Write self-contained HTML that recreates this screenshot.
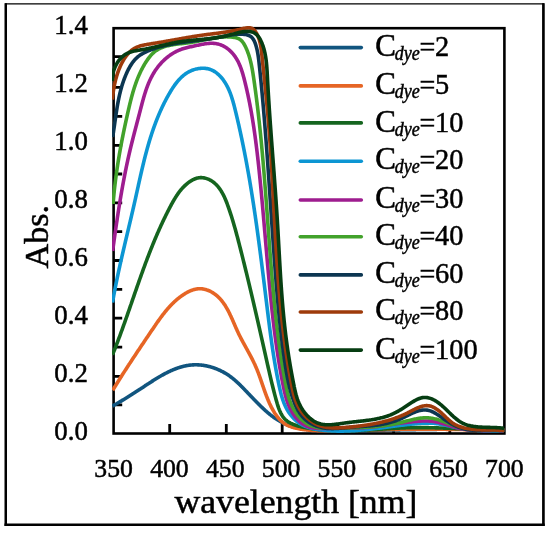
<!DOCTYPE html>
<html><head><meta charset="utf-8"><style>
html,body{margin:0;padding:0;background:#fff;}
body{width:550px;height:533px;overflow:hidden;}
svg{display:block;will-change:transform;}
text{font-family:"Liberation Serif",serif;fill:#000;stroke:#000;stroke-width:0.5px;}
</style></head><body>
<svg width="550" height="533" viewBox="0 0 550 533">
<rect x="0" y="0" width="550" height="533" fill="#fff"/>

<path d="M5.7,3.8 H543.5 V524.8 H5.7 Z" fill="none" stroke="#000" stroke-width="1.3"/>
<rect x="4.5" y="3.2" width="2.5" height="522.8" fill="#000"/>
<rect x="542.1" y="3.2" width="2.6" height="522.8" fill="#000"/>
<rect x="4.5" y="523.5" width="540.2" height="2.5" fill="#000"/>
<rect x="113.6" y="28.2" width="390.80" height="405.30" fill="none" stroke="#000" stroke-width="2.6"/>
<path d="M113.6,404.80 H122.20 M113.6,376.40 H122.20 M113.6,347.20 H122.20 M113.6,318.10 H122.20 M113.6,289.30 H122.20 M113.6,260.50 H122.20 M113.6,231.60 H122.20 M113.6,202.80 H122.20 M113.6,174.00 H122.20 M113.6,145.30 H122.20 M113.6,116.40 H122.20 M113.6,87.40 H122.20 M113.6,56.60 H122.20 M169.70,433.5 V423.90 M226.30,433.5 V423.90 M282.20,433.5 V423.90 M337.90,433.5 V423.90 M393.60,433.5 V423.90 M449.80,433.5 V423.90" stroke="#000" stroke-width="2.8" fill="none"/>
<defs><clipPath id="pc"><rect x="112.1" y="0" width="394" height="440"/></clipPath></defs>
<g clip-path="url(#pc)">
<path d="M112.35,406.10 L112.77,405.86 L113.20,405.63 L113.63,405.39 L114.05,405.15 L114.47,404.91 L114.90,404.68 L115.32,404.44 L115.73,404.20 L116.15,403.96 L116.57,403.73 L116.98,403.49 L117.39,403.25 L117.81,403.01 L118.22,402.77 L118.63,402.54 L119.04,402.30 L119.44,402.06 L119.85,401.82 L120.25,401.58 L120.66,401.34 L121.06,401.10 L121.46,400.86 L121.87,400.63 L122.27,400.39 L122.67,400.15 L123.07,399.91 L123.46,399.67 L123.86,399.43 L124.26,399.18 L124.65,398.94 L125.05,398.70 L125.44,398.46 L125.84,398.22 L126.23,397.98 L126.62,397.73 L127.02,397.49 L127.41,397.25 L127.80,397.01 L128.19,396.76 L128.58,396.52 L128.97,396.27 L129.36,396.03 L129.75,395.79 L130.14,395.54 L130.53,395.29 L130.92,395.05 L131.31,394.80 L131.70,394.56 L132.09,394.31 L132.47,394.06 L132.86,393.81 L133.25,393.56 L133.64,393.31 L134.03,393.07 L134.41,392.82 L134.80,392.57 L135.19,392.31 L135.58,392.06 L135.97,391.81 L136.36,391.56 L136.75,391.31 L137.14,391.05 L137.53,390.80 L137.92,390.54 L138.31,390.29 L138.70,390.03 L139.09,389.78 L139.48,389.52 L139.87,389.26 L140.27,389.01 L140.66,388.75 L141.05,388.49 L141.45,388.23 L141.84,387.97 L142.24,387.71 L142.64,387.45 L143.03,387.18 L143.43,386.92 L143.83,386.66 L144.23,386.40 L144.63,386.13 L145.03,385.87 L145.43,385.60 L145.83,385.34 L146.23,385.07 L146.64,384.81 L147.04,384.54 L147.44,384.28 L147.85,384.01 L148.26,383.75 L148.66,383.48 L149.07,383.22 L149.48,382.95 L149.88,382.69 L150.29,382.43 L150.70,382.16 L151.11,381.90 L151.52,381.63 L151.93,381.37 L152.34,381.11 L152.76,380.85 L153.17,380.59 L153.58,380.33 L154.00,380.07 L154.41,379.81 L154.83,379.55 L155.24,379.29 L155.66,379.03 L156.07,378.78 L156.49,378.52 L156.91,378.27 L157.33,378.02 L157.75,377.76 L158.17,377.51 L158.59,377.26 L159.01,377.01 L159.43,376.77 L159.85,376.52 L160.28,376.28 L160.70,376.03 L161.12,375.79 L161.55,375.55 L161.97,375.31 L162.40,375.07 L162.82,374.84 L163.25,374.60 L163.68,374.37 L164.11,374.14 L164.53,373.91 L164.96,373.68 L165.39,373.45 L165.82,373.23 L166.25,373.01 L166.68,372.79 L167.12,372.57 L167.55,372.35 L167.98,372.14 L168.41,371.93 L168.85,371.72 L169.28,371.51 L169.72,371.31 L170.15,371.10 L170.59,370.90 L171.02,370.71 L171.46,370.51 L171.90,370.32 L172.34,370.13 L172.78,369.94 L173.21,369.75 L173.65,369.57 L174.09,369.39 L174.53,369.22 L174.98,369.04 L175.42,368.87 L175.86,368.70 L176.30,368.54 L176.74,368.37 L177.19,368.21 L177.63,368.06 L178.08,367.90 L178.52,367.75 L178.97,367.61 L179.41,367.46 L179.86,367.32 L180.31,367.18 L180.75,367.05 L181.20,366.92 L181.65,366.79 L182.10,366.67 L182.55,366.55 L183.00,366.43 L183.45,366.32 L183.90,366.21 L184.35,366.11 L184.80,366.01 L185.25,365.91 L185.71,365.81 L186.16,365.72 L186.61,365.64 L187.07,365.56 L187.52,365.48 L187.98,365.40 L188.43,365.33 L188.89,365.27 L189.34,365.21 L189.80,365.15 L190.26,365.10 L190.71,365.05 L191.17,365.01 L191.63,364.97 L192.09,364.93 L192.55,364.90 L193.01,364.87 L193.47,364.85 L193.93,364.83 L194.39,364.82 L194.85,364.81 L195.31,364.80 L195.77,364.80 L196.23,364.80 L196.69,364.81 L197.15,364.82 L197.61,364.83 L198.07,364.85 L198.53,364.88 L198.99,364.90 L199.45,364.93 L199.91,364.97 L200.37,365.01 L200.83,365.05 L201.29,365.10 L201.75,365.15 L202.21,365.21 L202.67,365.26 L203.13,365.33 L203.59,365.39 L204.05,365.47 L204.50,365.54 L204.96,365.62 L205.42,365.70 L205.87,365.79 L206.33,365.88 L206.78,365.97 L207.24,366.07 L207.69,366.17 L208.15,366.27 L208.60,366.38 L209.05,366.49 L209.50,366.61 L209.95,366.73 L210.40,366.85 L210.85,366.98 L211.30,367.11 L211.75,367.24 L212.19,367.38 L212.64,367.52 L213.08,367.67 L213.53,367.81 L213.97,367.97 L214.41,368.12 L214.85,368.28 L215.29,368.44 L215.73,368.61 L216.17,368.78 L216.60,368.95 L217.04,369.12 L217.47,369.30 L217.90,369.49 L218.34,369.67 L218.76,369.86 L219.19,370.05 L219.62,370.25 L220.05,370.45 L220.47,370.65 L220.89,370.85 L221.31,371.06 L221.73,371.27 L222.15,371.49 L222.57,371.71 L222.98,371.93 L223.40,372.15 L223.81,372.38 L224.22,372.61 L224.63,372.85 L225.04,373.08 L225.44,373.32 L225.84,373.56 L226.24,373.81 L226.64,374.06 L227.04,374.31 L227.44,374.57 L227.83,374.82 L228.22,375.08 L228.61,375.35 L229.00,375.61 L229.39,375.88 L229.77,376.16 L230.15,376.43 L230.53,376.71 L230.91,376.99 L231.29,377.27 L231.66,377.56 L232.03,377.85 L232.40,378.14 L232.77,378.43 L233.13,378.73 L233.50,379.03 L233.86,379.33 L234.22,379.63 L234.58,379.93 L234.94,380.24 L235.30,380.55 L235.65,380.86 L236.00,381.17 L236.36,381.49 L236.71,381.81 L237.06,382.12 L237.40,382.44 L237.75,382.77 L238.10,383.09 L238.44,383.41 L238.78,383.74 L239.12,384.07 L239.47,384.40 L239.81,384.73 L240.14,385.06 L240.48,385.39 L240.82,385.72 L241.15,386.06 L241.49,386.39 L241.82,386.73 L242.16,387.07 L242.49,387.41 L242.82,387.74 L243.16,388.08 L243.49,388.42 L243.82,388.76 L244.15,389.11 L244.48,389.45 L244.81,389.79 L245.14,390.13 L245.46,390.48 L245.79,390.82 L246.12,391.16 L246.45,391.51 L246.78,391.85 L247.10,392.19 L247.43,392.54 L247.76,392.88 L248.09,393.22 L248.41,393.57 L248.74,393.91 L249.07,394.26 L249.39,394.60 L249.72,394.94 L250.05,395.29 L250.38,395.63 L250.71,395.98 L251.03,396.32 L251.36,396.67 L251.69,397.01 L252.02,397.35 L252.35,397.70 L252.68,398.04 L253.01,398.39 L253.34,398.73 L253.67,399.08 L254.00,399.42 L254.34,399.76 L254.67,400.11 L255.00,400.45 L255.34,400.79 L255.67,401.14 L256.01,401.48 L256.34,401.82 L256.68,402.17 L257.02,402.51 L257.36,402.85 L257.70,403.20 L258.04,403.54 L258.38,403.88 L258.72,404.22 L259.06,404.56 L259.41,404.90 L259.75,405.24 L260.10,405.58 L260.44,405.92 L260.79,406.26 L261.14,406.59 L261.49,406.93 L261.83,407.26 L262.19,407.60 L262.54,407.93 L262.89,408.26 L263.24,408.59 L263.60,408.92 L263.95,409.25 L264.31,409.58 L264.67,409.90 L265.02,410.23 L265.38,410.55 L265.74,410.87 L266.11,411.19 L266.47,411.51 L266.83,411.83 L267.20,412.14 L267.56,412.46 L267.93,412.77 L268.29,413.08 L268.66,413.39 L269.03,413.69 L269.40,414.00 L269.77,414.30 L270.15,414.60 L270.52,414.90 L270.90,415.19 L271.27,415.49 L271.65,415.78 L272.03,416.07 L272.41,416.35 L272.79,416.64 L273.17,416.92 L273.55,417.20 L273.94,417.47 L274.32,417.75 L274.71,418.02 L275.10,418.29 L275.49,418.55 L275.88,418.82 L276.27,419.08 L276.66,419.33 L277.05,419.59 L277.45,419.84 L277.84,420.09 L278.24,420.33 L278.64,420.57 L279.04,420.81 L279.44,421.05 L279.85,421.28 L280.25,421.51 L280.66,421.73 L281.06,421.95 L281.47,422.17 L281.88,422.38 L282.29,422.59 L282.70,422.80 L283.12,423.00 L283.53,423.20 L283.95,423.40 L284.36,423.59 L284.78,423.78 L285.20,423.97 L285.62,424.15 L286.05,424.32 L286.47,424.50 L286.90,424.67 L287.32,424.84 L287.75,425.00 L288.18,425.16 L288.61,425.32 L289.04,425.48 L289.47,425.63 L289.90,425.78 L290.34,425.92 L290.77,426.06 L291.21,426.20 L291.65,426.34 L292.09,426.47 L292.53,426.60 L292.97,426.73 L293.41,426.85 L293.85,426.97 L294.30,427.09 L294.74,427.21 L295.19,427.32 L295.63,427.43 L296.08,427.54 L296.53,427.64 L296.98,427.74 L297.43,427.84 L297.88,427.94 L298.33,428.03 L298.79,428.12 L299.24,428.21 L299.70,428.30 L300.15,428.39 L300.61,428.47 L301.07,428.55 L301.52,428.63 L301.98,428.70 L302.44,428.77 L302.90,428.84 L303.36,428.91 L303.82,428.98 L304.29,429.05 L304.75,429.11 L305.21,429.17 L305.68,429.23 L306.14,429.28 L306.61,429.34 L307.07,429.39 L307.54,429.44 L308.01,429.49 L308.48,429.54 L308.94,429.59 L309.41,429.63 L309.88,429.67 L310.35,429.71 L310.82,429.75 L311.29,429.79 L311.77,429.83 L312.24,429.86 L312.71,429.90 L313.18,429.93 L313.66,429.96 L314.13,429.99 L314.60,430.02 L315.08,430.04 L315.55,430.07 L316.03,430.09 L316.50,430.11 L316.98,430.14 L317.45,430.16 L317.93,430.18 L318.41,430.20 L318.88,430.21 L319.36,430.23 L319.84,430.25 L320.31,430.26 L320.79,430.27 L321.27,430.29 L321.75,430.30 L322.23,430.31 L322.70,430.32 L323.18,430.33 L323.66,430.34 L324.14,430.35 L324.62,430.36 L325.10,430.37 L325.58,430.38 L326.05,430.38 L326.53,430.39 L327.01,430.39 L327.49,430.40 L327.97,430.41 L328.45,430.41 L328.93,430.42 L329.41,430.42 L329.89,430.42 L330.36,430.43 L330.84,430.43 L331.32,430.44 L331.80,430.44 L332.28,430.44 L332.76,430.45 L333.23,430.45 L333.71,430.45 L334.19,430.46 L334.67,430.46 L335.15,430.46 L335.62,430.46 L336.10,430.46 L336.58,430.47 L337.06,430.47 L337.53,430.47 L338.01,430.47 L338.49,430.47 L338.97,430.47 L339.44,430.48 L339.92,430.48 L340.40,430.48 L340.88,430.48 L341.35,430.48 L341.83,430.48 L342.31,430.48 L342.78,430.48 L343.26,430.48 L343.74,430.48 L344.21,430.48 L344.69,430.48 L345.17,430.48 L345.64,430.48 L346.12,430.48 L346.59,430.48 L347.07,430.47 L347.55,430.47 L348.02,430.47 L348.50,430.47 L348.97,430.47 L349.45,430.47 L349.93,430.47 L350.40,430.46 L350.88,430.46 L351.35,430.46 L351.83,430.46 L352.30,430.45 L352.78,430.45 L353.25,430.45 L353.73,430.45 L354.20,430.44 L354.68,430.44 L355.15,430.44 L355.63,430.43 L356.10,430.43 L356.58,430.43 L357.05,430.42 L357.53,430.42 L358.00,430.42 L358.48,430.41 L358.95,430.41 L359.43,430.41 L359.90,430.40 L360.38,430.40 L360.85,430.39 L361.33,430.39 L361.80,430.38 L362.27,430.38 L362.75,430.37 L363.22,430.37 L363.70,430.37 L364.17,430.36 L364.64,430.36 L365.12,430.35 L365.59,430.35 L366.07,430.34 L366.54,430.33 L367.01,430.33 L367.49,430.32 L367.96,430.32 L368.44,430.31 L368.91,430.31 L369.38,430.30 L369.86,430.30 L370.33,430.29 L370.80,430.28 L371.28,430.28 L371.75,430.27 L372.22,430.27 L372.70,430.26 L373.17,430.25 L373.64,430.25 L374.12,430.24 L374.59,430.23 L375.06,430.23 L375.53,430.22 L376.01,430.21 L376.48,430.21 L376.95,430.20 L377.43,430.19 L377.90,430.19 L378.37,430.18 L378.84,430.17 L379.32,430.17 L379.79,430.16 L380.26,430.15 L380.73,430.14 L381.21,430.14 L381.68,430.13 L382.15,430.12 L382.62,430.12 L383.10,430.11 L383.57,430.10 L384.04,430.09 L384.51,430.09 L384.99,430.08 L385.46,430.07 L385.93,430.06 L386.40,430.06 L386.88,430.05 L387.35,430.04 L387.82,430.03 L388.29,430.03 L388.76,430.02 L389.24,430.01 L389.71,430.00 L390.18,430.00 L390.65,429.99 L391.12,429.98 L391.60,429.97 L392.07,429.96 L392.54,429.96 L393.01,429.95 L393.48,429.94 L393.95,429.93 L394.43,429.92 L394.90,429.92 L395.37,429.91 L395.84,429.90 L396.31,429.89 L396.78,429.89 L397.26,429.88 L397.73,429.87 L398.20,429.86 L398.67,429.85 L399.14,429.85 L399.61,429.84 L400.09,429.83 L400.56,429.82 L401.03,429.81 L401.50,429.81 L401.97,429.80 L402.44,429.79 L402.91,429.78 L403.39,429.77 L403.86,429.77 L404.33,429.76 L404.80,429.75 L405.27,429.74 L405.74,429.74 L406.21,429.73 L406.68,429.72 L407.16,429.71 L407.63,429.71 L408.10,429.70 L408.57,429.69 L409.04,429.68 L409.51,429.67 L409.98,429.67 L410.45,429.66 L410.93,429.65 L411.40,429.65 L411.87,429.64 L412.34,429.63 L412.81,429.62 L413.28,429.62 L413.75,429.61 L414.22,429.60 L414.69,429.59 L415.17,429.59 L415.64,429.58 L416.11,429.57 L416.58,429.57 L417.05,429.56 L417.52,429.55 L417.99,429.55 L418.46,429.54 L418.93,429.53 L419.41,429.53 L419.88,429.52 L420.35,429.51 L420.82,429.51 L421.29,429.50 L421.76,429.49 L422.23,429.49 L422.70,429.48 L423.17,429.47 L423.65,429.47 L424.12,429.46 L424.59,429.46 L425.06,429.45 L425.53,429.44 L426.00,429.44 L426.47,429.43 L426.94,429.43 L427.41,429.42 L427.89,429.42 L428.36,429.41 L428.83,429.40 L429.30,429.40 L429.77,429.39 L430.24,429.39 L430.71,429.38 L431.18,429.38 L431.66,429.37 L432.13,429.37 L432.60,429.36 L433.07,429.36 L433.54,429.36 L434.01,429.35 L434.48,429.35 L434.95,429.34 L435.43,429.34 L435.90,429.33 L436.37,429.33 L436.84,429.33 L437.31,429.32 L437.78,429.32 L438.25,429.32 L438.72,429.31 L439.20,429.31 L439.67,429.31 L440.14,429.30 L440.61,429.30 L441.08,429.30 L441.55,429.29 L442.03,429.29 L442.50,429.29 L442.97,429.29 L443.44,429.28 L443.91,429.28 L444.38,429.28 L444.85,429.28 L445.33,429.27 L445.80,429.27 L446.27,429.27 L446.74,429.27 L447.21,429.27 L447.69,429.27 L448.16,429.27 L448.63,429.27 L449.10,429.26 L449.57,429.26 L450.04,429.26 L450.52,429.26 L450.99,429.26 L451.46,429.26 L451.93,429.26 L452.40,429.26 L452.88,429.26 L453.35,429.26 L453.82,429.26 L454.29,429.26 L454.77,429.26 L455.24,429.26 L455.71,429.27 L456.18,429.27 L456.65,429.27 L457.13,429.27 L457.60,429.27 L458.07,429.27 L458.54,429.27 L459.02,429.28 L459.49,429.28 L459.96,429.28 L460.43,429.28 L460.91,429.29 L461.38,429.29 L461.85,429.29 L462.32,429.30 L462.80,429.30 L463.27,429.30 L463.74,429.31 L464.22,429.31 L464.69,429.31 L465.16,429.32 L465.64,429.32 L466.11,429.33 L466.58,429.33 L467.05,429.34 L467.53,429.34 L468.00,429.35 L468.47,429.35 L468.95,429.36 L469.42,429.36 L469.89,429.37 L470.37,429.37 L470.84,429.38 L471.31,429.39 L471.79,429.39 L472.26,429.40 L472.74,429.41 L473.21,429.41 L473.68,429.42 L474.16,429.43 L474.63,429.44 L475.10,429.45 L475.58,429.45 L476.05,429.46 L476.53,429.47 L477.00,429.48 L477.47,429.49 L477.95,429.50 L478.42,429.51 L478.90,429.52 L479.37,429.53 L479.85,429.54 L480.32,429.55 L480.80,429.56 L481.27,429.57 L481.74,429.58 L482.22,429.59 L482.69,429.60 L483.17,429.61 L483.64,429.62 L484.12,429.63 L484.59,429.65 L485.07,429.66 L485.54,429.67 L486.02,429.68 L486.49,429.70 L486.97,429.71 L487.44,429.72 L487.92,429.74 L488.39,429.75 L488.87,429.77 L489.35,429.78 L489.82,429.79 L490.30,429.81 L490.77,429.82 L491.25,429.84 L491.72,429.85 L492.20,429.87 L492.68,429.89 L493.15,429.90 L493.63,429.92 L494.10,429.94 L494.58,429.95 L495.06,429.97 L495.53,429.99 L496.01,430.00 L496.49,430.02 L496.96,430.04 L497.44,430.06 L497.92,430.08 L498.39,430.10 L498.87,430.11 L499.35,430.13 L499.82,430.15 L500.30,430.17 L500.78,430.19 L501.26,430.21 L501.73,430.23 L502.21,430.26 L502.69,430.28 L503.16,430.30 L503.64,430.32 L504.12,430.34" fill="none" stroke="#11557f" stroke-width="3.6" stroke-linejoin="round" stroke-linecap="butt"/>
<path d="M112.70,390.29 L113.01,389.78 L113.32,389.28 L113.63,388.77 L113.94,388.26 L114.25,387.76 L114.56,387.25 L114.87,386.75 L115.18,386.24 L115.50,385.74 L115.81,385.23 L116.12,384.73 L116.43,384.23 L116.74,383.73 L117.05,383.23 L117.36,382.73 L117.67,382.23 L117.99,381.73 L118.30,381.23 L118.61,380.74 L118.92,380.24 L119.23,379.74 L119.55,379.25 L119.86,378.75 L120.17,378.26 L120.48,377.76 L120.79,377.27 L121.11,376.77 L121.42,376.28 L121.73,375.79 L122.05,375.30 L122.36,374.81 L122.67,374.31 L122.99,373.82 L123.30,373.33 L123.61,372.84 L123.93,372.35 L124.24,371.87 L124.55,371.38 L124.87,370.89 L125.18,370.40 L125.50,369.91 L125.81,369.43 L126.12,368.94 L126.44,368.45 L126.75,367.97 L127.07,367.48 L127.38,367.00 L127.70,366.51 L128.01,366.03 L128.33,365.54 L128.65,365.06 L128.96,364.57 L129.28,364.09 L129.59,363.61 L129.91,363.12 L130.23,362.64 L130.54,362.16 L130.86,361.68 L131.18,361.19 L131.49,360.71 L131.81,360.23 L132.13,359.75 L132.44,359.27 L132.76,358.78 L133.08,358.30 L133.40,357.82 L133.72,357.34 L134.03,356.86 L134.35,356.38 L134.67,355.90 L134.99,355.42 L135.31,354.94 L135.63,354.46 L135.95,353.98 L136.27,353.50 L136.58,353.02 L136.90,352.54 L137.22,352.06 L137.54,351.58 L137.86,351.10 L138.18,350.62 L138.51,350.14 L138.83,349.66 L139.15,349.18 L139.47,348.70 L139.79,348.22 L140.11,347.74 L140.43,347.26 L140.75,346.78 L141.08,346.30 L141.40,345.82 L141.72,345.34 L142.04,344.86 L142.37,344.38 L142.69,343.90 L143.01,343.42 L143.34,342.94 L143.66,342.46 L143.98,341.97 L144.31,341.49 L144.63,341.01 L144.96,340.53 L145.28,340.05 L145.61,339.57 L145.93,339.08 L146.26,338.60 L146.58,338.12 L146.91,337.64 L147.23,337.15 L147.56,336.67 L147.88,336.19 L148.21,335.70 L148.54,335.22 L148.86,334.74 L149.19,334.25 L149.52,333.77 L149.85,333.28 L150.17,332.80 L150.50,332.31 L150.83,331.82 L151.16,331.34 L151.49,330.85 L151.82,330.36 L152.15,329.88 L152.48,329.39 L152.81,328.90 L153.14,328.41 L153.47,327.93 L153.80,327.44 L154.13,326.95 L154.46,326.46 L154.79,325.97 L155.13,325.49 L155.46,325.00 L155.80,324.51 L156.13,324.02 L156.47,323.54 L156.80,323.05 L157.14,322.57 L157.48,322.08 L157.82,321.60 L158.16,321.11 L158.50,320.63 L158.85,320.15 L159.19,319.67 L159.54,319.19 L159.88,318.71 L160.23,318.23 L160.58,317.75 L160.93,317.28 L161.28,316.80 L161.64,316.33 L161.99,315.86 L162.35,315.39 L162.71,314.92 L163.07,314.45 L163.43,313.98 L163.79,313.52 L164.15,313.06 L164.52,312.59 L164.89,312.14 L165.26,311.68 L165.63,311.22 L166.01,310.77 L166.38,310.32 L166.76,309.87 L167.14,309.42 L167.52,308.98 L167.91,308.53 L168.29,308.09 L168.68,307.65 L169.07,307.22 L169.47,306.78 L169.86,306.35 L170.26,305.93 L170.66,305.50 L171.07,305.08 L171.47,304.66 L171.88,304.24 L172.29,303.83 L172.71,303.41 L173.12,303.01 L173.54,302.60 L173.96,302.20 L174.39,301.80 L174.82,301.40 L175.25,301.01 L175.68,300.62 L176.12,300.24 L176.56,299.85 L177.00,299.47 L177.45,299.10 L177.90,298.73 L178.35,298.36 L178.81,298.00 L179.26,297.63 L179.73,297.28 L180.19,296.93 L180.66,296.58 L181.14,296.23 L181.61,295.89 L182.09,295.56 L182.58,295.22 L183.06,294.90 L183.55,294.57 L184.05,294.25 L184.55,293.94 L185.05,293.63 L185.55,293.33 L186.06,293.03 L186.57,292.74 L187.09,292.45 L187.61,292.18 L188.13,291.91 L188.65,291.65 L189.18,291.40 L189.71,291.15 L190.24,290.92 L190.77,290.69 L191.31,290.48 L191.85,290.27 L192.39,290.08 L192.93,289.90 L193.47,289.73 L194.02,289.57 L194.57,289.42 L195.12,289.29 L195.67,289.17 L196.22,289.06 L196.77,288.97 L197.33,288.89 L197.88,288.83 L198.44,288.78 L199.00,288.75 L199.55,288.73 L200.11,288.73 L200.67,288.75 L201.23,288.78 L201.79,288.83 L202.35,288.90 L202.91,288.97 L203.46,289.07 L204.02,289.18 L204.58,289.30 L205.13,289.43 L205.68,289.58 L206.23,289.74 L206.77,289.92 L207.31,290.11 L207.85,290.31 L208.39,290.52 L208.92,290.74 L209.45,290.97 L209.97,291.22 L210.49,291.47 L211.01,291.74 L211.52,292.01 L212.02,292.30 L212.52,292.59 L213.01,292.89 L213.50,293.20 L213.98,293.52 L214.45,293.85 L214.92,294.19 L215.37,294.53 L215.83,294.88 L216.27,295.23 L216.71,295.60 L217.14,295.97 L217.56,296.34 L217.98,296.73 L218.39,297.12 L218.80,297.51 L219.20,297.92 L219.59,298.32 L219.98,298.74 L220.36,299.16 L220.74,299.59 L221.11,300.02 L221.48,300.45 L221.84,300.90 L222.19,301.35 L222.54,301.80 L222.89,302.26 L223.23,302.72 L223.56,303.19 L223.90,303.66 L224.22,304.14 L224.54,304.62 L224.86,305.10 L225.18,305.59 L225.49,306.08 L225.79,306.58 L226.09,307.08 L226.39,307.59 L226.69,308.10 L226.98,308.61 L227.27,309.12 L227.55,309.64 L227.83,310.16 L228.11,310.68 L228.39,311.21 L228.66,311.74 L228.93,312.27 L229.20,312.80 L229.47,313.34 L229.73,313.88 L229.99,314.42 L230.25,314.96 L230.50,315.51 L230.76,316.05 L231.01,316.60 L231.26,317.15 L231.51,317.70 L231.76,318.25 L232.01,318.80 L232.26,319.35 L232.50,319.90 L232.75,320.46 L232.99,321.01 L233.23,321.57 L233.47,322.12 L233.72,322.68 L233.96,323.23 L234.20,323.79 L234.44,324.34 L234.68,324.90 L234.92,325.45 L235.16,326.01 L235.40,326.56 L235.64,327.11 L235.89,327.66 L236.13,328.21 L236.37,328.76 L236.62,329.31 L236.86,329.85 L237.11,330.40 L237.36,330.94 L237.61,331.48 L237.86,332.02 L238.11,332.55 L238.36,333.09 L238.62,333.62 L238.87,334.15 L239.13,334.68 L239.39,335.20 L239.65,335.73 L239.91,336.25 L240.18,336.77 L240.44,337.29 L240.71,337.81 L240.97,338.32 L241.24,338.84 L241.51,339.35 L241.78,339.86 L242.05,340.37 L242.32,340.88 L242.59,341.39 L242.86,341.90 L243.14,342.40 L243.41,342.91 L243.68,343.41 L243.96,343.92 L244.23,344.42 L244.51,344.92 L244.78,345.42 L245.06,345.92 L245.33,346.42 L245.61,346.92 L245.88,347.42 L246.16,347.92 L246.43,348.42 L246.71,348.91 L246.98,349.41 L247.26,349.91 L247.53,350.41 L247.80,350.91 L248.08,351.40 L248.35,351.90 L248.62,352.40 L248.89,352.90 L249.16,353.40 L249.43,353.90 L249.70,354.40 L249.97,354.90 L250.24,355.40 L250.51,355.90 L250.77,356.40 L251.04,356.91 L251.30,357.41 L251.56,357.91 L251.82,358.42 L252.08,358.93 L252.34,359.43 L252.60,359.94 L252.85,360.45 L253.11,360.97 L253.36,361.48 L253.61,361.99 L253.86,362.51 L254.10,363.03 L254.35,363.54 L254.59,364.07 L254.83,364.59 L255.07,365.11 L255.31,365.64 L255.54,366.16 L255.78,366.69 L256.01,367.23 L256.24,367.76 L256.46,368.30 L256.69,368.83 L256.91,369.37 L257.13,369.92 L257.35,370.46 L257.56,371.01 L257.77,371.55 L257.99,372.10 L258.20,372.65 L258.41,373.20 L258.61,373.76 L258.82,374.31 L259.03,374.87 L259.23,375.42 L259.43,375.98 L259.63,376.54 L259.83,377.10 L260.03,377.67 L260.23,378.23 L260.43,378.79 L260.63,379.36 L260.82,379.92 L261.02,380.49 L261.21,381.05 L261.41,381.62 L261.60,382.19 L261.80,382.75 L261.99,383.32 L262.19,383.89 L262.38,384.46 L262.57,385.03 L262.77,385.60 L262.96,386.16 L263.16,386.73 L263.35,387.30 L263.55,387.87 L263.75,388.44 L263.94,389.00 L264.14,389.57 L264.34,390.14 L264.54,390.71 L264.74,391.27 L264.94,391.84 L265.15,392.40 L265.35,392.96 L265.55,393.53 L265.76,394.09 L265.97,394.65 L266.18,395.21 L266.39,395.77 L266.60,396.32 L266.82,396.88 L267.03,397.44 L267.25,397.99 L267.47,398.54 L267.70,399.09 L267.92,399.64 L268.15,400.19 L268.38,400.73 L268.61,401.28 L268.84,401.82 L269.08,402.36 L269.32,402.90 L269.56,403.44 L269.81,403.97 L270.05,404.50 L270.30,405.03 L270.56,405.56 L270.82,406.08 L271.08,406.61 L271.34,407.13 L271.61,407.64 L271.88,408.16 L272.15,408.67 L272.43,409.18 L272.71,409.69 L272.99,410.19 L273.28,410.69 L273.57,411.19 L273.87,411.69 L274.17,412.18 L274.48,412.67 L274.78,413.15 L275.10,413.63 L275.42,414.11 L275.74,414.58 L276.07,415.05 L276.40,415.51 L276.73,415.97 L277.08,416.42 L277.42,416.87 L277.78,417.31 L278.13,417.75 L278.50,418.18 L278.86,418.60 L279.24,419.01 L279.62,419.42 L280.00,419.82 L280.40,420.22 L280.79,420.61 L281.20,420.98 L281.61,421.35 L282.02,421.72 L282.45,422.07 L282.88,422.42 L283.31,422.75 L283.76,423.08 L284.21,423.39 L284.66,423.70 L285.13,424.00 L285.60,424.28 L286.08,424.56 L286.56,424.83 L287.05,425.08 L287.55,425.33 L288.06,425.57 L288.57,425.79 L289.08,426.01 L289.60,426.23 L290.13,426.43 L290.66,426.63 L291.19,426.81 L291.73,426.99 L292.28,427.17 L292.82,427.33 L293.37,427.49 L293.93,427.65 L294.48,427.80 L295.04,427.94 L295.60,428.08 L296.16,428.21 L296.73,428.34 L297.29,428.46 L297.86,428.58 L298.43,428.69 L299.00,428.80 L299.57,428.91 L300.14,429.01 L300.71,429.11 L301.29,429.20 L301.86,429.29 L302.44,429.38 L303.01,429.46 L303.59,429.54 L304.17,429.62 L304.75,429.69 L305.33,429.76 L305.91,429.83 L306.49,429.89 L307.07,429.95 L307.65,430.01 L308.23,430.07 L308.82,430.12 L309.40,430.17 L309.99,430.21 L310.57,430.26 L311.16,430.30 L311.75,430.33 L312.33,430.37 L312.92,430.40 L313.51,430.44 L314.10,430.46 L314.69,430.49 L315.28,430.52 L315.86,430.54 L316.45,430.56 L317.04,430.58 L317.64,430.60 L318.23,430.61 L318.82,430.62 L319.41,430.64 L320.00,430.65 L320.59,430.66 L321.18,430.66 L321.78,430.67 L322.37,430.68 L322.96,430.68 L323.55,430.68 L324.14,430.68 L324.74,430.69 L325.33,430.69 L325.92,430.68 L326.51,430.68 L327.10,430.68 L327.70,430.68 L328.29,430.67 L328.88,430.67 L329.47,430.67 L330.06,430.66 L330.65,430.66 L331.24,430.65 L331.83,430.65 L332.42,430.64 L333.01,430.63 L333.60,430.63 L334.19,430.62 L334.78,430.62 L335.37,430.61 L335.96,430.60 L336.55,430.59 L337.14,430.59 L337.72,430.58 L338.31,430.57 L338.90,430.56 L339.49,430.55 L340.08,430.55 L340.66,430.54 L341.25,430.53 L341.84,430.52 L342.42,430.51 L343.01,430.50 L343.60,430.49 L344.18,430.48 L344.77,430.47 L345.35,430.46 L345.94,430.45 L346.53,430.44 L347.11,430.43 L347.70,430.42 L348.28,430.41 L348.87,430.39 L349.45,430.38 L350.03,430.37 L350.62,430.36 L351.20,430.35 L351.79,430.34 L352.37,430.32 L352.95,430.31 L353.54,430.30 L354.12,430.29 L354.71,430.28 L355.29,430.26 L355.87,430.25 L356.45,430.24 L357.04,430.22 L357.62,430.21 L358.20,430.20 L358.79,430.19 L359.37,430.17 L359.95,430.16 L360.53,430.15 L361.11,430.13 L361.70,430.12 L362.28,430.11 L362.86,430.09 L363.44,430.08 L364.02,430.07 L364.60,430.05 L365.19,430.04 L365.77,430.02 L366.35,430.01 L366.93,430.00 L367.51,429.98 L368.09,429.97 L368.67,429.96 L369.25,429.94 L369.83,429.93 L370.41,429.91 L371.00,429.90 L371.58,429.89 L372.16,429.87 L372.74,429.86 L373.32,429.85 L373.90,429.83 L374.48,429.82 L375.06,429.81 L375.64,429.79 L376.22,429.78 L376.80,429.76 L377.38,429.75 L377.96,429.74 L378.54,429.72 L379.12,429.71 L379.70,429.70 L380.28,429.68 L380.86,429.67 L381.44,429.66 L382.02,429.65 L382.60,429.63 L383.18,429.62 L383.76,429.61 L384.34,429.59 L384.92,429.58 L385.50,429.57 L386.08,429.56 L386.66,429.55 L387.24,429.53 L387.82,429.52 L388.40,429.51 L388.98,429.50 L389.56,429.49 L390.14,429.47 L390.72,429.46 L391.30,429.45 L391.88,429.44 L392.46,429.43 L393.04,429.42 L393.62,429.41 L394.20,429.40 L394.78,429.39 L395.36,429.38 L395.94,429.37 L396.52,429.36 L397.10,429.35 L397.68,429.34 L398.26,429.33 L398.84,429.32 L399.42,429.31 L400.00,429.30 L400.58,429.30 L401.16,429.29 L401.74,429.28 L402.32,429.27 L402.90,429.26 L403.48,429.26 L404.06,429.25 L404.64,429.24 L405.23,429.24 L405.81,429.23 L406.39,429.22 L406.97,429.22 L407.55,429.21 L408.13,429.21 L408.71,429.20 L409.30,429.20 L409.88,429.19 L410.46,429.19 L411.04,429.18 L411.62,429.18 L412.21,429.18 L412.79,429.17 L413.37,429.17 L413.95,429.17 L414.54,429.17 L415.12,429.16 L415.70,429.16 L416.28,429.16 L416.87,429.16 L417.45,429.16 L418.03,429.16 L418.62,429.15 L419.20,429.15 L419.78,429.15 L420.37,429.15 L420.95,429.15 L421.53,429.15 L422.12,429.15 L422.70,429.15 L423.28,429.16 L423.87,429.16 L424.45,429.16 L425.04,429.16 L425.62,429.16 L426.20,429.16 L426.79,429.17 L427.37,429.17 L427.96,429.17 L428.54,429.17 L429.13,429.18 L429.71,429.18 L430.29,429.18 L430.88,429.19 L431.46,429.19 L432.05,429.19 L432.63,429.20 L433.22,429.20 L433.80,429.21 L434.39,429.21 L434.97,429.22 L435.56,429.22 L436.14,429.22 L436.73,429.23 L437.31,429.24 L437.90,429.24 L438.48,429.25 L439.07,429.25 L439.65,429.26 L440.24,429.26 L440.82,429.27 L441.41,429.28 L441.99,429.28 L442.58,429.29 L443.16,429.30 L443.75,429.30 L444.33,429.31 L444.92,429.32 L445.50,429.32 L446.09,429.33 L446.67,429.34 L447.26,429.34 L447.84,429.35 L448.43,429.36 L449.01,429.37 L449.60,429.37 L450.18,429.38 L450.77,429.39 L451.35,429.40 L451.94,429.41 L452.52,429.41 L453.11,429.42 L453.69,429.43 L454.28,429.44 L454.87,429.45 L455.45,429.46 L456.04,429.47 L456.62,429.47 L457.21,429.48 L457.79,429.49 L458.38,429.50 L458.96,429.51 L459.55,429.52 L460.13,429.53 L460.72,429.54 L461.30,429.55 L461.88,429.55 L462.47,429.56 L463.05,429.57 L463.64,429.58 L464.22,429.59 L464.81,429.60 L465.39,429.61 L465.98,429.62 L466.56,429.63 L467.15,429.64 L467.73,429.65 L468.32,429.66 L468.90,429.67 L469.48,429.67 L470.07,429.68 L470.65,429.69 L471.24,429.70 L471.82,429.71 L472.40,429.72 L472.99,429.73 L473.57,429.74 L474.16,429.75 L474.74,429.76 L475.32,429.77 L475.91,429.78 L476.49,429.79 L477.07,429.79 L477.66,429.80 L478.24,429.81 L478.82,429.82 L479.41,429.83 L479.99,429.84 L480.57,429.85 L481.15,429.86 L481.74,429.87 L482.32,429.87 L482.90,429.88 L483.48,429.89 L484.07,429.90 L484.65,429.91 L485.23,429.92 L485.81,429.93 L486.40,429.93 L486.98,429.94 L487.56,429.95 L488.14,429.96 L488.72,429.97 L489.30,429.97 L489.89,429.98 L490.47,429.99 L491.05,430.00 L491.63,430.00 L492.21,430.01 L492.79,430.02 L493.37,430.03 L493.95,430.03 L494.53,430.04 L495.11,430.05 L495.69,430.05 L496.27,430.06 L496.85,430.07 L497.43,430.07 L498.01,430.08 L498.59,430.08 L499.17,430.09 L499.75,430.10 L500.33,430.10 L500.91,430.11 L501.49,430.11 L502.07,430.12 L502.64,430.12 L503.22,430.13 L503.80,430.13 L504.38,430.14" fill="none" stroke="#e66525" stroke-width="3.6" stroke-linejoin="round" stroke-linecap="butt"/>
<path d="M112.53,354.75 L112.82,354.04 L113.10,353.32 L113.39,352.60 L113.68,351.88 L113.96,351.16 L114.25,350.45 L114.53,349.73 L114.81,349.01 L115.09,348.29 L115.37,347.57 L115.65,346.85 L115.93,346.13 L116.21,345.41 L116.49,344.69 L116.76,343.97 L117.04,343.25 L117.31,342.53 L117.59,341.81 L117.86,341.09 L118.13,340.37 L118.40,339.65 L118.67,338.93 L118.94,338.21 L119.21,337.49 L119.48,336.77 L119.75,336.05 L120.02,335.33 L120.28,334.61 L120.55,333.89 L120.81,333.16 L121.08,332.44 L121.34,331.72 L121.60,331.00 L121.87,330.28 L122.13,329.56 L122.39,328.83 L122.65,328.11 L122.91,327.39 L123.17,326.67 L123.43,325.95 L123.69,325.22 L123.95,324.50 L124.20,323.78 L124.46,323.06 L124.72,322.33 L124.97,321.61 L125.23,320.89 L125.49,320.17 L125.74,319.44 L126.00,318.72 L126.25,318.00 L126.50,317.28 L126.76,316.55 L127.01,315.83 L127.27,315.11 L127.52,314.38 L127.77,313.66 L128.02,312.94 L128.28,312.22 L128.53,311.49 L128.78,310.77 L129.03,310.05 L129.28,309.32 L129.53,308.60 L129.78,307.88 L130.03,307.16 L130.28,306.43 L130.53,305.71 L130.78,304.99 L131.03,304.26 L131.29,303.54 L131.53,302.82 L131.78,302.10 L132.03,301.37 L132.28,300.65 L132.53,299.93 L132.78,299.21 L133.03,298.48 L133.28,297.76 L133.53,297.04 L133.78,296.32 L134.03,295.59 L134.28,294.87 L134.53,294.15 L134.78,293.43 L135.03,292.71 L135.28,291.98 L135.53,291.26 L135.79,290.54 L136.04,289.82 L136.29,289.10 L136.54,288.37 L136.79,287.65 L137.04,286.93 L137.29,286.21 L137.55,285.49 L137.80,284.77 L138.05,284.05 L138.30,283.33 L138.56,282.61 L138.81,281.89 L139.06,281.16 L139.32,280.44 L139.57,279.72 L139.83,279.00 L140.08,278.28 L140.34,277.56 L140.60,276.84 L140.85,276.12 L141.11,275.41 L141.37,274.69 L141.62,273.97 L141.88,273.25 L142.14,272.53 L142.40,271.81 L142.66,271.09 L142.92,270.37 L143.18,269.65 L143.44,268.94 L143.71,268.22 L143.97,267.50 L144.23,266.78 L144.50,266.07 L144.76,265.35 L145.03,264.63 L145.29,263.91 L145.56,263.20 L145.83,262.48 L146.09,261.76 L146.36,261.05 L146.63,260.33 L146.90,259.62 L147.17,258.90 L147.44,258.19 L147.72,257.47 L147.99,256.76 L148.26,256.04 L148.54,255.33 L148.81,254.61 L149.09,253.90 L149.37,253.19 L149.64,252.47 L149.92,251.76 L150.20,251.05 L150.48,250.33 L150.77,249.62 L151.05,248.91 L151.33,248.20 L151.62,247.48 L151.90,246.77 L152.19,246.06 L152.48,245.35 L152.76,244.64 L153.05,243.93 L153.34,243.22 L153.64,242.51 L153.93,241.80 L154.22,241.09 L154.52,240.38 L154.81,239.67 L155.11,238.96 L155.41,238.25 L155.71,237.55 L156.01,236.84 L156.31,236.13 L156.61,235.42 L156.92,234.72 L157.22,234.01 L157.53,233.31 L157.84,232.60 L158.15,231.89 L158.46,231.19 L158.77,230.48 L159.08,229.78 L159.40,229.08 L159.71,228.37 L160.03,227.67 L160.35,226.96 L160.67,226.26 L160.99,225.56 L161.31,224.86 L161.63,224.15 L161.96,223.45 L162.29,222.75 L162.62,222.05 L162.94,221.35 L163.28,220.65 L163.61,219.95 L163.94,219.25 L164.28,218.55 L164.62,217.85 L164.95,217.16 L165.29,216.46 L165.64,215.76 L165.98,215.06 L166.33,214.37 L166.67,213.67 L167.02,212.97 L167.37,212.28 L167.72,211.58 L168.08,210.89 L168.43,210.20 L168.79,209.50 L169.14,208.81 L169.51,208.12 L169.87,207.42 L170.23,206.73 L170.60,206.04 L170.96,205.35 L171.33,204.66 L171.71,203.97 L172.08,203.29 L172.46,202.60 L172.84,201.92 L173.23,201.24 L173.62,200.57 L174.01,199.89 L174.41,199.22 L174.81,198.56 L175.22,197.89 L175.63,197.24 L176.04,196.58 L176.46,195.93 L176.89,195.29 L177.32,194.65 L177.76,194.02 L178.20,193.39 L178.65,192.77 L179.11,192.15 L179.57,191.54 L180.04,190.94 L180.52,190.34 L181.00,189.75 L181.50,189.17 L182.00,188.60 L182.50,188.04 L183.02,187.48 L183.54,186.93 L184.08,186.39 L184.62,185.86 L185.17,185.34 L185.73,184.83 L186.30,184.33 L186.87,183.84 L187.46,183.36 L188.06,182.89 L188.67,182.43 L189.29,181.98 L189.92,181.55 L190.55,181.13 L191.20,180.73 L191.85,180.35 L192.51,179.98 L193.18,179.64 L193.86,179.32 L194.54,179.02 L195.23,178.75 L195.93,178.50 L196.63,178.29 L197.33,178.10 L198.05,177.94 L198.76,177.82 L199.48,177.72 L200.20,177.67 L200.93,177.65 L201.66,177.66 L202.39,177.70 L203.11,177.78 L203.84,177.89 L204.56,178.03 L205.28,178.19 L206.00,178.39 L206.71,178.61 L207.41,178.86 L208.11,179.13 L208.80,179.42 L209.47,179.74 L210.14,180.08 L210.79,180.44 L211.43,180.82 L212.06,181.22 L212.67,181.64 L213.27,182.07 L213.85,182.53 L214.42,182.99 L214.98,183.48 L215.53,183.98 L216.06,184.49 L216.58,185.02 L217.09,185.57 L217.58,186.13 L218.07,186.70 L218.54,187.28 L219.01,187.88 L219.46,188.49 L219.90,189.11 L220.33,189.74 L220.75,190.38 L221.17,191.04 L221.57,191.70 L221.96,192.37 L222.35,193.05 L222.72,193.74 L223.09,194.44 L223.45,195.14 L223.81,195.85 L224.15,196.57 L224.49,197.29 L224.82,198.02 L225.14,198.76 L225.46,199.50 L225.77,200.24 L226.08,200.99 L226.38,201.74 L226.68,202.49 L226.97,203.24 L227.25,204.00 L227.53,204.76 L227.81,205.52 L228.08,206.28 L228.35,207.04 L228.62,207.80 L228.88,208.56 L229.14,209.31 L229.40,210.07 L229.65,210.82 L229.90,211.58 L230.15,212.33 L230.40,213.08 L230.64,213.83 L230.88,214.57 L231.12,215.32 L231.36,216.07 L231.59,216.81 L231.82,217.55 L232.05,218.29 L232.28,219.03 L232.51,219.77 L232.73,220.51 L232.95,221.25 L233.17,221.99 L233.39,222.72 L233.61,223.46 L233.82,224.19 L234.04,224.93 L234.25,225.66 L234.46,226.39 L234.67,227.13 L234.87,227.86 L235.08,228.59 L235.28,229.32 L235.49,230.05 L235.69,230.78 L235.89,231.51 L236.09,232.24 L236.29,232.97 L236.48,233.70 L236.68,234.42 L236.88,235.15 L237.07,235.88 L237.26,236.61 L237.46,237.34 L237.65,238.07 L237.84,238.80 L238.03,239.52 L238.22,240.25 L238.41,240.98 L238.60,241.71 L238.79,242.44 L238.98,243.17 L239.16,243.90 L239.35,244.63 L239.54,245.36 L239.73,246.10 L239.91,246.83 L240.10,247.56 L240.29,248.29 L240.48,249.03 L240.66,249.76 L240.85,250.49 L241.04,251.23 L241.22,251.96 L241.41,252.70 L241.59,253.44 L241.78,254.17 L241.96,254.91 L242.15,255.65 L242.33,256.38 L242.52,257.12 L242.70,257.86 L242.89,258.60 L243.07,259.34 L243.26,260.08 L243.44,260.82 L243.62,261.56 L243.81,262.30 L243.99,263.04 L244.17,263.78 L244.36,264.52 L244.54,265.26 L244.72,266.01 L244.90,266.75 L245.09,267.49 L245.27,268.23 L245.45,268.98 L245.63,269.72 L245.81,270.46 L246.00,271.21 L246.18,271.95 L246.36,272.70 L246.54,273.44 L246.72,274.19 L246.90,274.93 L247.08,275.68 L247.26,276.43 L247.44,277.17 L247.62,277.92 L247.80,278.67 L247.98,279.41 L248.16,280.16 L248.34,280.91 L248.52,281.66 L248.70,282.40 L248.88,283.15 L249.06,283.90 L249.24,284.65 L249.42,285.40 L249.59,286.15 L249.77,286.90 L249.95,287.64 L250.13,288.39 L250.31,289.14 L250.48,289.89 L250.66,290.64 L250.84,291.39 L251.01,292.14 L251.19,292.89 L251.37,293.64 L251.55,294.39 L251.72,295.14 L251.90,295.90 L252.08,296.65 L252.25,297.40 L252.43,298.15 L252.60,298.90 L252.78,299.65 L252.95,300.40 L253.13,301.15 L253.31,301.91 L253.48,302.66 L253.66,303.41 L253.83,304.16 L254.01,304.91 L254.18,305.66 L254.35,306.42 L254.53,307.17 L254.70,307.92 L254.88,308.67 L255.05,309.42 L255.23,310.18 L255.40,310.93 L255.57,311.68 L255.75,312.43 L255.92,313.18 L256.09,313.94 L256.27,314.69 L256.44,315.44 L256.61,316.19 L256.78,316.94 L256.96,317.70 L257.13,318.45 L257.30,319.20 L257.47,319.95 L257.65,320.70 L257.82,321.45 L257.99,322.21 L258.16,322.96 L258.33,323.71 L258.50,324.46 L258.68,325.21 L258.85,325.96 L259.02,326.71 L259.19,327.47 L259.36,328.22 L259.53,328.97 L259.70,329.72 L259.87,330.47 L260.04,331.22 L260.21,331.97 L260.38,332.72 L260.55,333.47 L260.72,334.22 L260.89,334.97 L261.06,335.72 L261.23,336.47 L261.40,337.22 L261.57,337.97 L261.74,338.72 L261.91,339.46 L262.08,340.21 L262.25,340.96 L262.42,341.71 L262.59,342.46 L262.76,343.21 L262.93,343.95 L263.09,344.70 L263.26,345.45 L263.43,346.19 L263.60,346.94 L263.77,347.69 L263.94,348.43 L264.10,349.18 L264.27,349.93 L264.44,350.67 L264.61,351.42 L264.78,352.16 L264.94,352.91 L265.11,353.65 L265.28,354.39 L265.45,355.14 L265.61,355.88 L265.78,356.62 L265.95,357.37 L266.11,358.11 L266.28,358.85 L266.45,359.59 L266.61,360.34 L266.78,361.08 L266.95,361.82 L267.11,362.56 L267.28,363.30 L267.45,364.04 L267.61,364.78 L267.78,365.52 L267.95,366.26 L268.11,367.00 L268.28,367.74 L268.45,368.47 L268.61,369.21 L268.78,369.95 L268.95,370.69 L269.12,371.43 L269.29,372.17 L269.46,372.91 L269.62,373.65 L269.79,374.39 L269.97,375.13 L270.14,375.87 L270.31,376.61 L270.48,377.35 L270.66,378.09 L270.83,378.84 L271.00,379.58 L271.18,380.32 L271.36,381.07 L271.53,381.81 L271.71,382.56 L271.89,383.30 L272.07,384.05 L272.26,384.79 L272.44,385.54 L272.62,386.29 L272.81,387.04 L272.99,387.79 L273.18,388.54 L273.37,389.30 L273.56,390.05 L273.75,390.81 L273.95,391.56 L274.14,392.32 L274.34,393.08 L274.54,393.84 L274.74,394.60 L274.94,395.36 L275.14,396.12 L275.35,396.89 L275.55,397.65 L275.76,398.42 L275.97,399.19 L276.18,399.96 L276.40,400.73 L276.61,401.51 L276.83,402.28 L277.06,403.05 L277.28,403.82 L277.52,404.59 L277.76,405.36 L278.00,406.12 L278.25,406.88 L278.51,407.63 L278.77,408.37 L279.05,409.11 L279.33,409.84 L279.63,410.56 L279.93,411.27 L280.25,411.97 L280.57,412.66 L280.91,413.34 L281.26,414.00 L281.63,414.65 L282.01,415.29 L282.40,415.91 L282.81,416.51 L283.24,417.10 L283.68,417.66 L284.14,418.21 L284.62,418.74 L285.11,419.25 L285.63,419.74 L286.16,420.21 L286.71,420.66 L287.27,421.10 L287.85,421.51 L288.45,421.91 L289.06,422.29 L289.68,422.65 L290.31,423.00 L290.96,423.33 L291.62,423.65 L292.29,423.96 L292.98,424.25 L293.67,424.53 L294.37,424.79 L295.08,425.05 L295.80,425.29 L296.53,425.52 L297.26,425.74 L298.00,425.96 L298.74,426.16 L299.49,426.35 L300.25,426.54 L301.00,426.72 L301.76,426.89 L302.53,427.06 L303.29,427.22 L304.06,427.38 L304.83,427.53 L305.59,427.67 L306.36,427.82 L307.13,427.96 L307.90,428.09 L308.66,428.22 L309.43,428.35 L310.20,428.47 L310.97,428.59 L311.73,428.71 L312.50,428.82 L313.27,428.93 L314.04,429.04 L314.80,429.14 L315.57,429.24 L316.34,429.33 L317.11,429.42 L317.87,429.51 L318.64,429.60 L319.41,429.68 L320.18,429.76 L320.94,429.83 L321.71,429.90 L322.48,429.97 L323.24,430.04 L324.01,430.10 L324.78,430.16 L325.55,430.22 L326.31,430.27 L327.08,430.32 L327.85,430.37 L328.62,430.41 L329.38,430.46 L330.15,430.50 L330.92,430.53 L331.69,430.57 L332.45,430.60 L333.22,430.63 L333.99,430.66 L334.76,430.68 L335.52,430.70 L336.29,430.72 L337.06,430.74 L337.83,430.75 L338.59,430.77 L339.36,430.78 L340.13,430.79 L340.89,430.79 L341.66,430.80 L342.43,430.80 L343.20,430.80 L343.96,430.80 L344.73,430.79 L345.50,430.79 L346.27,430.78 L347.03,430.77 L347.80,430.76 L348.57,430.75 L349.33,430.73 L350.10,430.71 L350.87,430.70 L351.64,430.68 L352.40,430.66 L353.17,430.63 L353.94,430.61 L354.71,430.58 L355.47,430.56 L356.24,430.53 L357.01,430.50 L357.77,430.47 L358.54,430.44 L359.31,430.40 L360.08,430.37 L360.84,430.34 L361.61,430.30 L362.38,430.26 L363.14,430.22 L363.91,430.18 L364.68,430.14 L365.45,430.10 L366.21,430.06 L366.98,430.02 L367.75,429.98 L368.51,429.93 L369.28,429.89 L370.05,429.84 L370.81,429.80 L371.58,429.75 L372.35,429.71 L373.12,429.66 L373.88,429.61 L374.65,429.56 L375.42,429.52 L376.18,429.47 L376.95,429.42 L377.72,429.37 L378.48,429.32 L379.25,429.27 L380.02,429.23 L380.79,429.18 L381.55,429.13 L382.32,429.08 L383.09,429.03 L383.85,428.98 L384.62,428.93 L385.39,428.89 L386.15,428.84 L386.92,428.79 L387.69,428.74 L388.45,428.70 L389.22,428.65 L389.99,428.60 L390.75,428.56 L391.52,428.51 L392.29,428.47 L393.05,428.43 L393.82,428.38 L394.59,428.34 L395.35,428.30 L396.12,428.26 L396.89,428.22 L397.65,428.18 L398.42,428.14 L399.19,428.11 L399.95,428.07 L400.72,428.04 L401.49,428.00 L402.25,427.97 L403.02,427.94 L403.79,427.91 L404.55,427.88 L405.32,427.85 L406.08,427.82 L406.85,427.80 L407.62,427.78 L408.38,427.75 L409.15,427.73 L409.92,427.71 L410.68,427.70 L411.45,427.68 L412.22,427.67 L412.98,427.65 L413.75,427.64 L414.51,427.63 L415.28,427.62 L416.05,427.61 L416.81,427.61 L417.58,427.60 L418.34,427.60 L419.11,427.60 L419.88,427.60 L420.64,427.60 L421.41,427.60 L422.18,427.61 L422.94,427.61 L423.71,427.62 L424.47,427.62 L425.24,427.63 L426.01,427.64 L426.77,427.65 L427.54,427.66 L428.30,427.67 L429.07,427.69 L429.84,427.70 L430.60,427.72 L431.37,427.73 L432.13,427.75 L432.90,427.77 L433.67,427.79 L434.43,427.81 L435.20,427.83 L435.96,427.85 L436.73,427.87 L437.50,427.89 L438.26,427.92 L439.03,427.94 L439.79,427.97 L440.56,427.99 L441.33,428.02 L442.09,428.05 L442.86,428.07 L443.63,428.10 L444.39,428.13 L445.16,428.16 L445.92,428.19 L446.69,428.22 L447.46,428.25 L448.22,428.28 L448.99,428.31 L449.75,428.34 L450.52,428.38 L451.29,428.41 L452.05,428.44 L452.82,428.48 L453.59,428.51 L454.35,428.54 L455.12,428.58 L455.89,428.61 L456.65,428.64 L457.42,428.68 L458.18,428.71 L458.95,428.75 L459.72,428.78 L460.48,428.82 L461.25,428.85 L462.02,428.89 L462.78,428.92 L463.55,428.96 L464.32,428.99 L465.08,429.02 L465.85,429.06 L466.62,429.09 L467.38,429.13 L468.15,429.16 L468.92,429.19 L469.68,429.23 L470.45,429.26 L471.22,429.29 L471.98,429.33 L472.75,429.36 L473.52,429.39 L474.29,429.42 L475.05,429.45 L475.82,429.48 L476.59,429.51 L477.35,429.54 L478.12,429.57 L478.89,429.60 L479.66,429.63 L480.42,429.66 L481.19,429.68 L481.96,429.71 L482.73,429.74 L483.49,429.76 L484.26,429.79 L485.03,429.81 L485.80,429.83 L486.56,429.86 L487.33,429.88 L488.10,429.90 L488.87,429.92 L489.63,429.94 L490.40,429.95 L491.17,429.97 L491.94,429.99 L492.71,430.00 L493.47,430.02 L494.24,430.03 L495.01,430.04 L495.78,430.06 L496.55,430.07 L497.31,430.07 L498.08,430.08 L498.85,430.09 L499.62,430.10 L500.39,430.10 L501.16,430.10 L501.93,430.11 L502.69,430.11 L503.46,430.11 L504.23,430.10" fill="none" stroke="#15651f" stroke-width="3.6" stroke-linejoin="round" stroke-linecap="butt"/>
<path d="M112.53,302.49 L112.69,301.56 L112.85,300.62 L113.02,299.69 L113.18,298.76 L113.35,297.83 L113.51,296.90 L113.68,295.97 L113.85,295.04 L114.03,294.12 L114.20,293.19 L114.37,292.26 L114.55,291.33 L114.73,290.40 L114.91,289.47 L115.09,288.55 L115.27,287.62 L115.45,286.69 L115.63,285.76 L115.82,284.84 L116.00,283.91 L116.19,282.98 L116.38,282.06 L116.57,281.13 L116.76,280.21 L116.95,279.28 L117.14,278.36 L117.33,277.43 L117.53,276.50 L117.72,275.58 L117.92,274.65 L118.12,273.73 L118.31,272.81 L118.51,271.88 L118.71,270.96 L118.91,270.03 L119.11,269.11 L119.32,268.18 L119.52,267.26 L119.72,266.34 L119.93,265.41 L120.13,264.49 L120.34,263.57 L120.55,262.64 L120.75,261.72 L120.96,260.80 L121.17,259.88 L121.38,258.95 L121.59,258.03 L121.80,257.11 L122.01,256.19 L122.22,255.26 L122.44,254.34 L122.65,253.42 L122.86,252.50 L123.08,251.58 L123.29,250.65 L123.50,249.73 L123.72,248.81 L123.93,247.89 L124.15,246.97 L124.37,246.05 L124.58,245.12 L124.80,244.20 L125.01,243.28 L125.23,242.36 L125.45,241.44 L125.67,240.52 L125.88,239.60 L126.10,238.67 L126.32,237.75 L126.54,236.83 L126.76,235.91 L126.98,234.99 L127.19,234.07 L127.41,233.15 L127.63,232.23 L127.85,231.30 L128.07,230.38 L128.29,229.46 L128.50,228.54 L128.72,227.62 L128.94,226.70 L129.16,225.78 L129.38,224.85 L129.60,223.93 L129.81,223.01 L130.03,222.09 L130.25,221.17 L130.47,220.25 L130.68,219.32 L130.90,218.40 L131.12,217.48 L131.33,216.56 L131.55,215.64 L131.76,214.71 L131.98,213.79 L132.19,212.87 L132.41,211.95 L132.62,211.03 L132.83,210.10 L133.05,209.18 L133.26,208.26 L133.47,207.33 L133.68,206.41 L133.89,205.49 L134.10,204.57 L134.31,203.64 L134.52,202.72 L134.73,201.80 L134.94,200.87 L135.15,199.95 L135.35,199.02 L135.56,198.10 L135.76,197.18 L135.97,196.25 L136.17,195.33 L136.38,194.40 L136.58,193.48 L136.79,192.55 L136.99,191.63 L137.20,190.71 L137.40,189.78 L137.60,188.86 L137.81,187.93 L138.01,187.01 L138.21,186.09 L138.42,185.16 L138.62,184.24 L138.83,183.31 L139.03,182.39 L139.24,181.47 L139.44,180.55 L139.65,179.62 L139.85,178.70 L140.06,177.78 L140.27,176.85 L140.48,175.93 L140.69,175.01 L140.90,174.09 L141.11,173.17 L141.32,172.25 L141.53,171.33 L141.74,170.41 L141.96,169.49 L142.17,168.57 L142.39,167.65 L142.61,166.73 L142.83,165.81 L143.05,164.89 L143.27,163.98 L143.49,163.06 L143.71,162.14 L143.94,161.23 L144.17,160.31 L144.39,159.40 L144.62,158.48 L144.86,157.57 L145.09,156.66 L145.32,155.74 L145.56,154.83 L145.80,153.92 L146.04,153.01 L146.28,152.10 L146.53,151.19 L146.77,150.28 L147.02,149.37 L147.27,148.46 L147.53,147.56 L147.78,146.65 L148.04,145.74 L148.30,144.84 L148.56,143.94 L148.82,143.03 L149.09,142.13 L149.36,141.23 L149.63,140.33 L149.91,139.43 L150.18,138.53 L150.46,137.63 L150.75,136.73 L151.03,135.84 L151.32,134.94 L151.61,134.05 L151.91,133.15 L152.20,132.26 L152.50,131.37 L152.81,130.48 L153.11,129.59 L153.42,128.70 L153.74,127.81 L154.05,126.92 L154.37,126.04 L154.69,125.15 L155.02,124.27 L155.35,123.38 L155.68,122.50 L156.02,121.62 L156.36,120.74 L156.71,119.87 L157.05,118.99 L157.40,118.11 L157.76,117.24 L158.12,116.36 L158.48,115.49 L158.85,114.62 L159.22,113.75 L159.60,112.88 L159.98,112.02 L160.36,111.15 L160.75,110.29 L161.14,109.42 L161.54,108.56 L161.94,107.70 L162.34,106.84 L162.75,105.98 L163.17,105.13 L163.59,104.27 L164.01,103.42 L164.44,102.56 L164.87,101.71 L165.31,100.86 L165.75,100.02 L166.20,99.17 L166.65,98.33 L167.11,97.48 L167.57,96.64 L168.04,95.80 L168.51,94.96 L168.99,94.12 L169.47,93.29 L169.96,92.46 L170.45,91.63 L170.95,90.80 L171.46,89.98 L171.97,89.16 L172.49,88.35 L173.02,87.54 L173.56,86.74 L174.10,85.95 L174.66,85.17 L175.22,84.40 L175.79,83.63 L176.37,82.88 L176.96,82.14 L177.56,81.41 L178.17,80.69 L178.79,79.98 L179.42,79.29 L180.06,78.62 L180.72,77.95 L181.39,77.31 L182.07,76.68 L182.76,76.06 L183.46,75.47 L184.18,74.89 L184.91,74.33 L185.66,73.80 L186.42,73.28 L187.20,72.78 L187.99,72.31 L188.79,71.85 L189.61,71.43 L190.45,71.02 L191.30,70.64 L192.17,70.28 L193.06,69.95 L193.96,69.65 L194.87,69.37 L195.79,69.12 L196.72,68.90 L197.66,68.71 L198.61,68.55 L199.56,68.43 L200.51,68.33 L201.46,68.27 L202.41,68.23 L203.35,68.24 L204.29,68.28 L205.22,68.35 L206.15,68.46 L207.06,68.61 L207.96,68.79 L208.85,69.01 L209.73,69.28 L210.58,69.58 L211.42,69.91 L212.25,70.29 L213.06,70.69 L213.85,71.13 L214.63,71.60 L215.39,72.10 L216.13,72.63 L216.86,73.19 L217.57,73.77 L218.27,74.38 L218.95,75.01 L219.61,75.66 L220.26,76.34 L220.89,77.03 L221.51,77.74 L222.11,78.47 L222.69,79.21 L223.26,79.96 L223.81,80.73 L224.34,81.51 L224.86,82.30 L225.36,83.09 L225.84,83.90 L226.31,84.71 L226.77,85.53 L227.21,86.36 L227.64,87.19 L228.05,88.04 L228.45,88.88 L228.84,89.74 L229.21,90.60 L229.57,91.47 L229.93,92.34 L230.27,93.22 L230.60,94.10 L230.92,94.99 L231.23,95.88 L231.54,96.78 L231.83,97.68 L232.12,98.58 L232.40,99.49 L232.67,100.40 L232.94,101.31 L233.20,102.23 L233.46,103.15 L233.71,104.07 L233.95,105.00 L234.19,105.92 L234.43,106.85 L234.67,107.78 L234.90,108.70 L235.13,109.63 L235.35,110.56 L235.58,111.49 L235.81,112.42 L236.03,113.35 L236.25,114.28 L236.48,115.21 L236.70,116.14 L236.92,117.07 L237.14,118.00 L237.35,118.93 L237.57,119.86 L237.78,120.79 L238.00,121.72 L238.21,122.65 L238.43,123.59 L238.64,124.52 L238.85,125.45 L239.06,126.38 L239.26,127.31 L239.47,128.24 L239.68,129.17 L239.88,130.10 L240.09,131.03 L240.29,131.96 L240.49,132.89 L240.69,133.82 L240.89,134.75 L241.09,135.68 L241.29,136.61 L241.49,137.54 L241.69,138.47 L241.88,139.41 L242.08,140.34 L242.27,141.27 L242.46,142.20 L242.65,143.13 L242.84,144.06 L243.03,144.99 L243.22,145.92 L243.41,146.85 L243.60,147.78 L243.78,148.72 L243.97,149.65 L244.15,150.58 L244.34,151.51 L244.52,152.44 L244.70,153.37 L244.88,154.30 L245.06,155.24 L245.24,156.17 L245.42,157.10 L245.60,158.03 L245.78,158.96 L245.95,159.89 L246.13,160.82 L246.30,161.76 L246.47,162.69 L246.65,163.62 L246.82,164.55 L246.99,165.48 L247.16,166.41 L247.33,167.35 L247.50,168.28 L247.67,169.21 L247.83,170.14 L248.00,171.07 L248.17,172.01 L248.33,172.94 L248.50,173.87 L248.66,174.80 L248.82,175.73 L248.98,176.67 L249.15,177.60 L249.31,178.53 L249.47,179.46 L249.63,180.40 L249.78,181.33 L249.94,182.26 L250.10,183.19 L250.25,184.12 L250.41,185.06 L250.57,185.99 L250.72,186.92 L250.87,187.85 L251.03,188.79 L251.18,189.72 L251.33,190.65 L251.48,191.59 L251.63,192.52 L251.78,193.45 L251.93,194.38 L252.08,195.32 L252.23,196.25 L252.38,197.18 L252.52,198.12 L252.67,199.05 L252.82,199.98 L252.96,200.91 L253.11,201.85 L253.25,202.78 L253.39,203.71 L253.54,204.65 L253.68,205.58 L253.82,206.51 L253.96,207.45 L254.10,208.38 L254.24,209.31 L254.38,210.25 L254.52,211.18 L254.66,212.11 L254.80,213.05 L254.93,213.98 L255.07,214.91 L255.21,215.85 L255.34,216.78 L255.48,217.72 L255.62,218.65 L255.75,219.58 L255.88,220.52 L256.02,221.45 L256.15,222.39 L256.28,223.32 L256.42,224.25 L256.55,225.19 L256.68,226.12 L256.81,227.06 L256.94,227.99 L257.07,228.92 L257.20,229.86 L257.33,230.79 L257.46,231.73 L257.59,232.66 L257.72,233.60 L257.85,234.53 L257.97,235.46 L258.10,236.40 L258.23,237.33 L258.35,238.27 L258.48,239.20 L258.61,240.14 L258.73,241.07 L258.86,242.01 L258.98,242.94 L259.11,243.88 L259.23,244.81 L259.35,245.75 L259.48,246.68 L259.60,247.62 L259.72,248.55 L259.85,249.49 L259.97,250.42 L260.09,251.36 L260.21,252.29 L260.33,253.23 L260.46,254.16 L260.58,255.10 L260.70,256.03 L260.82,256.97 L260.94,257.90 L261.06,258.84 L261.18,259.77 L261.30,260.71 L261.42,261.64 L261.54,262.58 L261.65,263.52 L261.77,264.45 L261.89,265.39 L262.01,266.32 L262.13,267.26 L262.25,268.19 L262.36,269.13 L262.48,270.07 L262.60,271.00 L262.72,271.94 L262.83,272.87 L262.95,273.81 L263.07,274.75 L263.19,275.68 L263.30,276.62 L263.42,277.56 L263.53,278.49 L263.65,279.43 L263.77,280.36 L263.88,281.30 L264.00,282.24 L264.12,283.17 L264.23,284.11 L264.35,285.05 L264.46,285.98 L264.58,286.92 L264.69,287.86 L264.81,288.79 L264.92,289.73 L265.04,290.67 L265.16,291.60 L265.27,292.54 L265.39,293.48 L265.50,294.42 L265.62,295.35 L265.73,296.29 L265.85,297.23 L265.96,298.16 L266.08,299.10 L266.19,300.04 L266.31,300.98 L266.42,301.91 L266.54,302.85 L266.65,303.79 L266.77,304.73 L266.89,305.66 L267.00,306.60 L267.12,307.54 L267.23,308.48 L267.35,309.41 L267.46,310.35 L267.58,311.29 L267.70,312.23 L267.81,313.17 L267.93,314.10 L268.04,315.04 L268.16,315.98 L268.28,316.92 L268.40,317.86 L268.51,318.79 L268.63,319.73 L268.75,320.67 L268.87,321.61 L268.99,322.55 L269.11,323.48 L269.23,324.42 L269.35,325.36 L269.47,326.30 L269.59,327.24 L269.71,328.18 L269.83,329.11 L269.95,330.05 L270.08,330.99 L270.20,331.93 L270.32,332.87 L270.45,333.81 L270.58,334.74 L270.70,335.68 L270.83,336.62 L270.96,337.56 L271.09,338.50 L271.22,339.44 L271.35,340.37 L271.48,341.31 L271.61,342.25 L271.74,343.19 L271.88,344.13 L272.01,345.07 L272.15,346.00 L272.29,346.94 L272.42,347.88 L272.56,348.82 L272.70,349.76 L272.84,350.69 L272.99,351.63 L273.13,352.57 L273.27,353.51 L273.42,354.45 L273.57,355.38 L273.72,356.32 L273.87,357.26 L274.02,358.20 L274.17,359.13 L274.32,360.07 L274.48,361.01 L274.63,361.95 L274.79,362.88 L274.95,363.82 L275.11,364.76 L275.27,365.70 L275.44,366.63 L275.60,367.57 L275.77,368.51 L275.94,369.45 L276.11,370.38 L276.28,371.32 L276.45,372.26 L276.63,373.19 L276.80,374.13 L276.98,375.07 L277.16,376.00 L277.34,376.94 L277.52,377.88 L277.71,378.81 L277.90,379.75 L278.09,380.68 L278.28,381.62 L278.47,382.56 L278.66,383.49 L278.86,384.43 L279.06,385.36 L279.26,386.30 L279.46,387.23 L279.67,388.17 L279.88,389.10 L280.10,390.03 L280.31,390.96 L280.54,391.89 L280.77,392.82 L281.01,393.74 L281.25,394.66 L281.51,395.57 L281.77,396.49 L282.04,397.40 L282.32,398.30 L282.61,399.20 L282.91,400.10 L283.22,400.99 L283.54,401.87 L283.87,402.75 L284.22,403.62 L284.58,404.49 L284.96,405.35 L285.35,406.20 L285.75,407.04 L286.17,407.88 L286.61,408.71 L287.06,409.53 L287.53,410.34 L288.01,411.14 L288.51,411.94 L289.03,412.72 L289.57,413.49 L290.11,414.24 L290.68,414.99 L291.26,415.72 L291.86,416.44 L292.47,417.14 L293.09,417.83 L293.74,418.50 L294.39,419.15 L295.06,419.79 L295.75,420.41 L296.45,421.01 L297.17,421.60 L297.90,422.16 L298.64,422.71 L299.40,423.23 L300.17,423.73 L300.95,424.21 L301.75,424.67 L302.57,425.10 L303.39,425.51 L304.23,425.90 L305.08,426.27 L305.94,426.61 L306.82,426.93 L307.70,427.24 L308.59,427.52 L309.50,427.79 L310.40,428.04 L311.32,428.28 L312.24,428.49 L313.17,428.70 L314.11,428.89 L315.04,429.07 L315.98,429.24 L316.93,429.40 L317.87,429.54 L318.82,429.68 L319.77,429.81 L320.72,429.94 L321.67,430.05 L322.62,430.16 L323.56,430.27 L324.51,430.37 L325.46,430.46 L326.41,430.54 L327.36,430.62 L328.31,430.69 L329.25,430.76 L330.20,430.82 L331.15,430.87 L332.10,430.92 L333.04,430.96 L333.99,431.00 L334.94,431.03 L335.89,431.06 L336.83,431.08 L337.78,431.09 L338.73,431.10 L339.67,431.11 L340.62,431.11 L341.57,431.11 L342.51,431.10 L343.46,431.08 L344.40,431.07 L345.35,431.04 L346.30,431.02 L347.24,430.99 L348.19,430.95 L349.13,430.91 L350.08,430.87 L351.02,430.82 L351.97,430.77 L352.92,430.72 L353.86,430.66 L354.81,430.60 L355.75,430.53 L356.69,430.47 L357.64,430.39 L358.58,430.32 L359.53,430.24 L360.47,430.16 L361.42,430.08 L362.36,429.99 L363.30,429.91 L364.25,429.81 L365.19,429.72 L366.13,429.63 L367.08,429.53 L368.02,429.43 L368.96,429.33 L369.91,429.22 L370.85,429.12 L371.79,429.01 L372.73,428.90 L373.68,428.79 L374.62,428.68 L375.56,428.56 L376.50,428.45 L377.44,428.33 L378.38,428.21 L379.33,428.09 L380.27,427.98 L381.21,427.86 L382.15,427.73 L383.09,427.61 L384.03,427.49 L384.97,427.37 L385.91,427.25 L386.85,427.12 L387.79,427.00 L388.73,426.88 L389.67,426.75 L390.61,426.63 L391.55,426.51 L392.49,426.39 L393.43,426.26 L394.36,426.14 L395.30,426.02 L396.24,425.90 L397.18,425.78 L398.12,425.66 L399.06,425.55 L399.99,425.43 L400.93,425.31 L401.87,425.20 L402.81,425.09 L403.74,424.98 L404.68,424.87 L405.62,424.76 L406.55,424.65 L407.49,424.55 L408.42,424.45 L409.36,424.35 L410.30,424.25 L411.23,424.15 L412.17,424.06 L413.10,423.97 L414.04,423.88 L414.97,423.79 L415.91,423.71 L416.84,423.63 L417.77,423.55 L418.71,423.48 L419.64,423.41 L420.58,423.35 L421.51,423.29 L422.44,423.24 L423.38,423.20 L424.31,423.16 L425.24,423.13 L426.17,423.11 L427.11,423.10 L428.04,423.10 L428.97,423.11 L429.90,423.13 L430.83,423.16 L431.77,423.20 L432.70,423.25 L433.63,423.31 L434.56,423.39 L435.49,423.48 L436.42,423.59 L437.35,423.71 L438.28,423.84 L439.21,423.98 L440.14,424.13 L441.07,424.30 L442.00,424.47 L442.93,424.65 L443.86,424.84 L444.79,425.03 L445.73,425.23 L446.66,425.44 L447.59,425.65 L448.52,425.86 L449.45,426.07 L450.38,426.28 L451.31,426.50 L452.24,426.71 L453.18,426.92 L454.11,427.12 L455.04,427.33 L455.98,427.53 L456.91,427.72 L457.84,427.91 L458.78,428.09 L459.71,428.26 L460.65,428.43 L461.58,428.58 L462.52,428.74 L463.46,428.88 L464.39,429.02 L465.33,429.15 L466.27,429.28 L467.21,429.40 L468.15,429.51 L469.09,429.62 L470.03,429.72 L470.97,429.82 L471.91,429.91 L472.85,429.99 L473.79,430.07 L474.73,430.15 L475.67,430.22 L476.61,430.28 L477.56,430.34 L478.50,430.39 L479.44,430.44 L480.39,430.49 L481.33,430.53 L482.27,430.56 L483.22,430.59 L484.16,430.62 L485.11,430.64 L486.05,430.66 L487.00,430.68 L487.94,430.69 L488.89,430.69 L489.84,430.70 L490.78,430.70 L491.73,430.69 L492.68,430.69 L493.62,430.68 L494.57,430.67 L495.52,430.65 L496.47,430.63 L497.42,430.61 L498.36,430.59 L499.31,430.57 L500.26,430.54 L501.21,430.51 L502.16,430.47 L503.11,430.44 L504.06,430.40" fill="none" stroke="#0c96d3" stroke-width="3.6" stroke-linejoin="round" stroke-linecap="butt"/>
<path d="M112.64,250.93 L112.77,249.99 L112.90,249.05 L113.03,248.11 L113.16,247.17 L113.29,246.22 L113.42,245.28 L113.55,244.34 L113.68,243.39 L113.81,242.45 L113.94,241.50 L114.07,240.56 L114.20,239.61 L114.34,238.67 L114.47,237.72 L114.60,236.78 L114.74,235.83 L114.87,234.88 L115.00,233.94 L115.14,232.99 L115.27,232.04 L115.41,231.09 L115.55,230.15 L115.68,229.20 L115.82,228.25 L115.96,227.30 L116.10,226.35 L116.23,225.40 L116.37,224.46 L116.51,223.51 L116.65,222.56 L116.80,221.61 L116.94,220.66 L117.08,219.71 L117.22,218.76 L117.37,217.81 L117.51,216.86 L117.65,215.91 L117.80,214.96 L117.95,214.01 L118.09,213.06 L118.24,212.11 L118.39,211.16 L118.54,210.21 L118.69,209.26 L118.84,208.31 L118.99,207.36 L119.14,206.42 L119.29,205.47 L119.45,204.52 L119.60,203.57 L119.76,202.62 L119.91,201.67 L120.07,200.72 L120.23,199.77 L120.39,198.82 L120.55,197.87 L120.71,196.92 L120.87,195.97 L121.03,195.03 L121.19,194.08 L121.36,193.13 L121.52,192.18 L121.69,191.23 L121.85,190.29 L122.02,189.34 L122.19,188.39 L122.36,187.45 L122.53,186.50 L122.70,185.55 L122.88,184.61 L123.05,183.66 L123.23,182.72 L123.40,181.77 L123.58,180.83 L123.76,179.88 L123.94,178.94 L124.12,177.99 L124.30,177.05 L124.48,176.11 L124.67,175.17 L124.85,174.22 L125.04,173.28 L125.22,172.34 L125.41,171.40 L125.60,170.46 L125.79,169.52 L125.99,168.58 L126.18,167.64 L126.38,166.70 L126.57,165.76 L126.77,164.82 L126.97,163.88 L127.17,162.95 L127.37,162.01 L127.57,161.07 L127.78,160.14 L127.98,159.20 L128.19,158.27 L128.40,157.34 L128.61,156.40 L128.82,155.47 L129.03,154.54 L129.24,153.61 L129.46,152.67 L129.68,151.74 L129.89,150.81 L130.11,149.89 L130.33,148.96 L130.56,148.03 L130.78,147.10 L131.01,146.17 L131.23,145.25 L131.46,144.32 L131.69,143.40 L131.92,142.47 L132.15,141.55 L132.38,140.62 L132.62,139.70 L132.85,138.78 L133.09,137.85 L133.32,136.93 L133.56,136.01 L133.80,135.08 L134.04,134.16 L134.27,133.24 L134.51,132.32 L134.76,131.39 L135.00,130.47 L135.24,129.55 L135.48,128.62 L135.72,127.70 L135.96,126.78 L136.21,125.86 L136.45,124.93 L136.69,124.01 L136.94,123.09 L137.18,122.16 L137.42,121.24 L137.67,120.31 L137.91,119.39 L138.16,118.46 L138.40,117.53 L138.64,116.61 L138.89,115.68 L139.13,114.75 L139.37,113.83 L139.61,112.90 L139.86,111.97 L140.10,111.04 L140.34,110.11 L140.58,109.17 L140.82,108.24 L141.06,107.31 L141.30,106.38 L141.55,105.44 L141.79,104.51 L142.04,103.58 L142.28,102.65 L142.53,101.72 L142.79,100.79 L143.04,99.86 L143.30,98.93 L143.56,98.01 L143.83,97.08 L144.10,96.16 L144.37,95.24 L144.65,94.32 L144.93,93.40 L145.22,92.49 L145.52,91.57 L145.82,90.67 L146.12,89.76 L146.44,88.85 L146.76,87.95 L147.09,87.06 L147.42,86.16 L147.76,85.27 L148.12,84.39 L148.47,83.50 L148.84,82.62 L149.22,81.75 L149.61,80.88 L150.00,80.02 L150.41,79.16 L150.83,78.30 L151.25,77.45 L151.69,76.60 L152.14,75.77 L152.60,74.93 L153.08,74.10 L153.56,73.28 L154.06,72.46 L154.57,71.65 L155.09,70.85 L155.63,70.05 L156.18,69.26 L156.74,68.48 L157.31,67.71 L157.89,66.94 L158.49,66.19 L159.10,65.44 L159.71,64.70 L160.35,63.98 L160.99,63.26 L161.64,62.55 L162.30,61.86 L162.98,61.17 L163.66,60.50 L164.36,59.84 L165.06,59.19 L165.78,58.55 L166.50,57.93 L167.24,57.32 L167.98,56.73 L168.74,56.14 L169.50,55.58 L170.28,55.03 L171.06,54.49 L171.85,53.97 L172.65,53.46 L173.46,52.97 L174.28,52.50 L175.11,52.05 L175.94,51.61 L176.78,51.19 L177.64,50.79 L178.49,50.41 L179.36,50.04 L180.24,49.70 L181.12,49.37 L182.01,49.06 L182.90,48.77 L183.80,48.49 L184.71,48.23 L185.63,47.98 L186.56,47.73 L187.49,47.50 L188.42,47.28 L189.36,47.06 L190.31,46.84 L191.27,46.63 L192.23,46.42 L193.20,46.21 L194.17,46.00 L195.15,45.79 L196.13,45.58 L197.12,45.36 L198.11,45.14 L199.10,44.93 L200.10,44.72 L201.10,44.52 L202.10,44.33 L203.10,44.15 L204.09,43.98 L205.09,43.82 L206.08,43.68 L207.07,43.56 L208.06,43.45 L209.04,43.37 L210.02,43.31 L210.98,43.28 L211.95,43.27 L212.90,43.29 L213.85,43.34 L214.79,43.43 L215.71,43.55 L216.63,43.70 L217.53,43.89 L218.43,44.11 L219.31,44.37 L220.18,44.66 L221.03,44.98 L221.88,45.33 L222.71,45.71 L223.53,46.12 L224.33,46.55 L225.12,47.02 L225.90,47.51 L226.66,48.02 L227.41,48.56 L228.14,49.12 L228.86,49.71 L229.56,50.31 L230.24,50.94 L230.91,51.59 L231.57,52.25 L232.20,52.94 L232.82,53.64 L233.42,54.36 L234.00,55.10 L234.56,55.85 L235.11,56.61 L235.63,57.39 L236.14,58.18 L236.63,58.98 L237.10,59.79 L237.56,60.62 L238.00,61.45 L238.43,62.30 L238.84,63.16 L239.23,64.02 L239.62,64.90 L239.99,65.78 L240.34,66.67 L240.69,67.57 L241.02,68.47 L241.35,69.39 L241.66,70.30 L241.97,71.23 L242.26,72.16 L242.55,73.09 L242.83,74.03 L243.10,74.97 L243.36,75.91 L243.62,76.86 L243.87,77.80 L244.12,78.76 L244.37,79.71 L244.61,80.66 L244.85,81.61 L245.08,82.56 L245.31,83.52 L245.54,84.47 L245.77,85.42 L246.00,86.37 L246.22,87.32 L246.44,88.27 L246.66,89.22 L246.87,90.17 L247.09,91.12 L247.30,92.07 L247.51,93.02 L247.71,93.97 L247.92,94.92 L248.12,95.87 L248.32,96.82 L248.52,97.77 L248.72,98.71 L248.91,99.66 L249.10,100.61 L249.29,101.56 L249.48,102.50 L249.67,103.45 L249.85,104.40 L250.04,105.35 L250.22,106.29 L250.39,107.24 L250.57,108.19 L250.75,109.13 L250.92,110.08 L251.09,111.02 L251.26,111.97 L251.43,112.92 L251.59,113.86 L251.76,114.81 L251.92,115.75 L252.08,116.70 L252.24,117.64 L252.40,118.59 L252.55,119.53 L252.71,120.48 L252.86,121.42 L253.01,122.37 L253.16,123.31 L253.31,124.26 L253.45,125.20 L253.60,126.15 L253.74,127.09 L253.88,128.03 L254.03,128.98 L254.16,129.92 L254.30,130.87 L254.44,131.81 L254.57,132.76 L254.71,133.70 L254.84,134.65 L254.97,135.59 L255.10,136.54 L255.23,137.48 L255.36,138.42 L255.48,139.37 L255.61,140.31 L255.73,141.26 L255.86,142.20 L255.98,143.15 L256.10,144.09 L256.22,145.04 L256.34,145.98 L256.46,146.93 L256.57,147.87 L256.69,148.82 L256.80,149.76 L256.92,150.71 L257.03,151.66 L257.14,152.60 L257.25,153.55 L257.36,154.49 L257.47,155.44 L257.58,156.39 L257.69,157.33 L257.80,158.28 L257.90,159.23 L258.01,160.17 L258.12,161.12 L258.22,162.07 L258.32,163.02 L258.43,163.96 L258.53,164.91 L258.63,165.86 L258.73,166.81 L258.83,167.76 L258.93,168.70 L259.03,169.65 L259.13,170.60 L259.23,171.55 L259.33,172.50 L259.43,173.45 L259.52,174.40 L259.62,175.35 L259.72,176.30 L259.81,177.25 L259.91,178.20 L260.00,179.16 L260.10,180.11 L260.19,181.06 L260.29,182.01 L260.38,182.96 L260.47,183.91 L260.57,184.87 L260.66,185.82 L260.75,186.77 L260.84,187.73 L260.93,188.68 L261.02,189.63 L261.11,190.59 L261.20,191.54 L261.29,192.49 L261.38,193.45 L261.47,194.40 L261.56,195.36 L261.65,196.31 L261.74,197.26 L261.83,198.22 L261.92,199.17 L262.00,200.13 L262.09,201.08 L262.18,202.04 L262.26,203.00 L262.35,203.95 L262.44,204.91 L262.52,205.86 L262.61,206.82 L262.69,207.78 L262.78,208.73 L262.86,209.69 L262.95,210.65 L263.03,211.60 L263.12,212.56 L263.20,213.52 L263.29,214.47 L263.37,215.43 L263.45,216.39 L263.54,217.34 L263.62,218.30 L263.71,219.26 L263.79,220.22 L263.87,221.18 L263.96,222.13 L264.04,223.09 L264.12,224.05 L264.20,225.01 L264.29,225.97 L264.37,226.92 L264.45,227.88 L264.53,228.84 L264.62,229.80 L264.70,230.76 L264.78,231.72 L264.86,232.68 L264.95,233.63 L265.03,234.59 L265.11,235.55 L265.19,236.51 L265.27,237.47 L265.36,238.43 L265.44,239.39 L265.52,240.35 L265.60,241.31 L265.69,242.27 L265.77,243.22 L265.85,244.18 L265.93,245.14 L266.01,246.10 L266.10,247.06 L266.18,248.02 L266.26,248.98 L266.34,249.94 L266.43,250.90 L266.51,251.86 L266.59,252.82 L266.68,253.78 L266.76,254.74 L266.84,255.70 L266.93,256.66 L267.01,257.61 L267.09,258.57 L267.18,259.53 L267.26,260.49 L267.34,261.45 L267.43,262.41 L267.51,263.37 L267.60,264.33 L267.68,265.29 L267.77,266.25 L267.85,267.21 L267.94,268.17 L268.02,269.13 L268.11,270.09 L268.20,271.04 L268.28,272.00 L268.37,272.96 L268.46,273.92 L268.54,274.88 L268.63,275.84 L268.72,276.80 L268.81,277.76 L268.90,278.71 L268.98,279.67 L269.07,280.63 L269.16,281.59 L269.25,282.55 L269.34,283.51 L269.43,284.47 L269.52,285.42 L269.61,286.38 L269.70,287.34 L269.80,288.30 L269.89,289.25 L269.98,290.21 L270.07,291.17 L270.17,292.13 L270.26,293.08 L270.35,294.04 L270.45,295.00 L270.54,295.96 L270.64,296.91 L270.73,297.87 L270.83,298.83 L270.93,299.78 L271.03,300.74 L271.12,301.69 L271.22,302.65 L271.32,303.61 L271.42,304.56 L271.52,305.52 L271.62,306.47 L271.72,307.43 L271.83,308.38 L271.93,309.34 L272.03,310.29 L272.14,311.25 L272.24,312.20 L272.35,313.16 L272.45,314.11 L272.56,315.07 L272.66,316.02 L272.77,316.97 L272.88,317.93 L272.99,318.88 L273.10,319.83 L273.21,320.79 L273.32,321.74 L273.44,322.69 L273.55,323.64 L273.66,324.60 L273.78,325.55 L273.89,326.50 L274.01,327.45 L274.13,328.40 L274.24,329.35 L274.36,330.31 L274.48,331.26 L274.60,332.21 L274.72,333.16 L274.85,334.11 L274.97,335.06 L275.09,336.01 L275.22,336.96 L275.34,337.90 L275.47,338.85 L275.60,339.80 L275.73,340.75 L275.86,341.70 L275.99,342.65 L276.12,343.59 L276.25,344.54 L276.39,345.49 L276.52,346.44 L276.66,347.38 L276.79,348.33 L276.93,349.27 L277.07,350.22 L277.21,351.16 L277.35,352.11 L277.49,353.05 L277.64,354.00 L277.78,354.94 L277.93,355.89 L278.07,356.83 L278.22,357.77 L278.37,358.72 L278.52,359.66 L278.67,360.60 L278.82,361.54 L278.98,362.49 L279.13,363.43 L279.29,364.37 L279.45,365.31 L279.60,366.25 L279.76,367.19 L279.93,368.13 L280.09,369.07 L280.25,370.01 L280.42,370.95 L280.58,371.89 L280.75,372.82 L280.92,373.76 L281.09,374.70 L281.26,375.64 L281.43,376.57 L281.61,377.51 L281.78,378.45 L281.96,379.38 L282.14,380.32 L282.32,381.25 L282.50,382.19 L282.68,383.12 L282.87,384.05 L283.05,384.99 L283.24,385.92 L283.43,386.85 L283.62,387.78 L283.82,388.72 L284.02,389.65 L284.22,390.58 L284.43,391.50 L284.65,392.43 L284.87,393.36 L285.10,394.28 L285.34,395.20 L285.59,396.12 L285.84,397.04 L286.11,397.96 L286.38,398.88 L286.67,399.79 L286.97,400.70 L287.28,401.61 L287.61,402.52 L287.94,403.42 L288.30,404.32 L288.66,405.22 L289.05,406.11 L289.45,407.01 L289.86,407.89 L290.30,408.78 L290.75,409.66 L291.21,410.53 L291.70,411.40 L292.20,412.25 L292.71,413.10 L293.24,413.93 L293.79,414.75 L294.36,415.56 L294.94,416.35 L295.54,417.13 L296.15,417.89 L296.78,418.63 L297.42,419.35 L298.08,420.05 L298.76,420.72 L299.45,421.37 L300.15,422.00 L300.87,422.60 L301.61,423.18 L302.36,423.72 L303.13,424.24 L303.91,424.72 L304.70,425.17 L305.51,425.59 L306.34,425.98 L307.18,426.33 L308.03,426.64 L308.89,426.93 L309.77,427.19 L310.66,427.42 L311.55,427.62 L312.46,427.80 L313.38,427.95 L314.31,428.08 L315.25,428.20 L316.19,428.29 L317.14,428.36 L318.10,428.42 L319.06,428.46 L320.03,428.49 L321.00,428.50 L321.98,428.51 L322.96,428.50 L323.94,428.49 L324.93,428.48 L325.91,428.45 L326.90,428.43 L327.89,428.40 L328.88,428.37 L329.86,428.34 L330.85,428.32 L331.83,428.29 L332.81,428.27 L333.79,428.25 L334.77,428.24 L335.74,428.22 L336.72,428.20 L337.69,428.19 L338.66,428.18 L339.63,428.17 L340.60,428.16 L341.57,428.15 L342.54,428.14 L343.50,428.13 L344.47,428.12 L345.43,428.11 L346.39,428.10 L347.35,428.09 L348.31,428.07 L349.27,428.06 L350.23,428.05 L351.19,428.03 L352.15,428.02 L353.10,428.00 L354.06,427.98 L355.01,427.95 L355.97,427.93 L356.92,427.90 L357.87,427.87 L358.82,427.84 L359.78,427.81 L360.73,427.77 L361.68,427.73 L362.63,427.68 L363.58,427.63 L364.53,427.58 L365.48,427.52 L366.43,427.46 L367.38,427.40 L368.33,427.33 L369.28,427.25 L370.23,427.17 L371.18,427.09 L372.13,427.00 L373.08,426.90 L374.03,426.81 L374.98,426.70 L375.93,426.60 L376.88,426.49 L377.83,426.37 L378.78,426.26 L379.73,426.14 L380.68,426.01 L381.63,425.89 L382.59,425.76 L383.54,425.63 L384.49,425.50 L385.44,425.36 L386.39,425.23 L387.34,425.09 L388.29,424.95 L389.24,424.81 L390.20,424.67 L391.15,424.53 L392.10,424.39 L393.05,424.25 L394.00,424.11 L394.96,423.97 L395.91,423.83 L396.86,423.69 L397.81,423.55 L398.77,423.42 L399.72,423.28 L400.67,423.15 L401.63,423.02 L402.58,422.89 L403.53,422.76 L404.49,422.64 L405.44,422.51 L406.40,422.39 L407.35,422.28 L408.30,422.17 L409.26,422.06 L410.21,421.95 L411.17,421.85 L412.13,421.75 L413.08,421.66 L414.04,421.57 L414.99,421.49 L415.95,421.41 L416.90,421.34 L417.86,421.27 L418.82,421.21 L419.77,421.16 L420.73,421.11 L421.69,421.07 L422.64,421.04 L423.60,421.01 L424.56,421.00 L425.51,421.00 L426.46,421.01 L427.42,421.03 L428.37,421.06 L429.32,421.11 L430.27,421.17 L431.21,421.24 L432.16,421.33 L433.10,421.44 L434.05,421.56 L434.98,421.70 L435.92,421.86 L436.86,422.03 L437.79,422.23 L438.72,422.44 L439.65,422.66 L440.58,422.90 L441.50,423.15 L442.43,423.41 L443.35,423.67 L444.27,423.95 L445.20,424.23 L446.12,424.52 L447.04,424.81 L447.96,425.10 L448.88,425.39 L449.80,425.68 L450.73,425.97 L451.65,426.26 L452.57,426.54 L453.50,426.82 L454.42,427.09 L455.35,427.35 L456.28,427.60 L457.21,427.83 L458.14,428.06 L459.08,428.27 L460.01,428.47 L460.95,428.65 L461.89,428.83 L462.84,428.99 L463.78,429.14 L464.73,429.28 L465.67,429.41 L466.62,429.52 L467.57,429.63 L468.52,429.73 L469.47,429.82 L470.43,429.90 L471.38,429.97 L472.34,430.04 L473.30,430.10 L474.25,430.15 L475.21,430.19 L476.17,430.23 L477.13,430.26 L478.09,430.29 L479.06,430.31 L480.02,430.32 L480.98,430.34 L481.94,430.35 L482.91,430.35 L483.87,430.35 L484.84,430.35 L485.80,430.35 L486.76,430.35 L487.73,430.34 L488.69,430.34 L489.66,430.33 L490.62,430.33 L491.58,430.32 L492.55,430.32 L493.51,430.31 L494.47,430.31 L495.43,430.31 L496.39,430.31 L497.35,430.32 L498.31,430.32 L499.27,430.34 L500.23,430.35 L501.18,430.37 L502.14,430.40 L503.09,430.43 L504.05,430.46" fill="none" stroke="#9e1d8f" stroke-width="3.6" stroke-linejoin="round" stroke-linecap="butt"/>
<path d="M113.11,203.98 L113.18,203.05 L113.25,202.11 L113.32,201.17 L113.40,200.24 L113.48,199.30 L113.56,198.37 L113.64,197.43 L113.73,196.49 L113.81,195.56 L113.90,194.62 L113.99,193.69 L114.09,192.75 L114.18,191.82 L114.28,190.89 L114.37,189.95 L114.47,189.02 L114.58,188.08 L114.68,187.15 L114.78,186.22 L114.89,185.28 L115.00,184.35 L115.11,183.42 L115.22,182.49 L115.34,181.55 L115.45,180.62 L115.57,179.69 L115.69,178.76 L115.81,177.83 L115.93,176.90 L116.06,175.96 L116.18,175.03 L116.31,174.10 L116.44,173.17 L116.57,172.24 L116.70,171.31 L116.83,170.38 L116.97,169.45 L117.11,168.52 L117.25,167.59 L117.39,166.66 L117.53,165.73 L117.67,164.80 L117.81,163.88 L117.96,162.95 L118.11,162.02 L118.26,161.09 L118.41,160.16 L118.56,159.23 L118.71,158.31 L118.87,157.38 L119.02,156.45 L119.18,155.53 L119.34,154.60 L119.50,153.67 L119.66,152.75 L119.83,151.82 L119.99,150.89 L120.16,149.97 L120.32,149.04 L120.49,148.12 L120.66,147.19 L120.83,146.27 L121.00,145.34 L121.18,144.42 L121.35,143.49 L121.53,142.57 L121.70,141.64 L121.88,140.72 L122.06,139.79 L122.24,138.87 L122.42,137.95 L122.61,137.02 L122.79,136.10 L122.98,135.18 L123.16,134.26 L123.35,133.33 L123.54,132.41 L123.73,131.49 L123.92,130.57 L124.11,129.64 L124.30,128.72 L124.50,127.80 L124.69,126.88 L124.89,125.96 L125.08,125.04 L125.28,124.12 L125.48,123.20 L125.68,122.28 L125.88,121.36 L126.08,120.44 L126.28,119.52 L126.49,118.60 L126.69,117.68 L126.89,116.76 L127.10,115.84 L127.31,114.92 L127.51,114.00 L127.72,113.08 L127.93,112.16 L128.14,111.25 L128.35,110.33 L128.56,109.41 L128.78,108.49 L128.99,107.58 L129.21,106.66 L129.42,105.74 L129.64,104.83 L129.86,103.91 L130.09,103.00 L130.31,102.08 L130.54,101.17 L130.77,100.26 L131.00,99.35 L131.24,98.44 L131.47,97.53 L131.72,96.62 L131.96,95.72 L132.21,94.81 L132.46,93.91 L132.72,93.01 L132.98,92.10 L133.25,91.20 L133.51,90.31 L133.79,89.41 L134.07,88.52 L134.35,87.62 L134.64,86.73 L134.93,85.84 L135.23,84.96 L135.54,84.07 L135.85,83.19 L136.16,82.31 L136.49,81.43 L136.81,80.56 L137.15,79.68 L137.49,78.81 L137.84,77.94 L138.19,77.08 L138.56,76.21 L138.93,75.35 L139.30,74.50 L139.69,73.64 L140.08,72.79 L140.48,71.94 L140.89,71.09 L141.31,70.25 L141.73,69.41 L142.16,68.58 L142.61,67.74 L143.06,66.91 L143.52,66.09 L143.99,65.26 L144.46,64.44 L144.95,63.63 L145.45,62.82 L145.96,62.01 L146.48,61.21 L147.00,60.41 L147.54,59.62 L148.10,58.84 L148.66,58.08 L149.24,57.32 L149.83,56.58 L150.43,55.86 L151.04,55.16 L151.67,54.47 L152.32,53.81 L152.98,53.17 L153.66,52.55 L154.35,51.96 L155.05,51.40 L155.78,50.86 L156.52,50.36 L157.28,49.88 L158.05,49.42 L158.83,48.99 L159.63,48.59 L160.45,48.21 L161.27,47.85 L162.11,47.51 L162.96,47.19 L163.83,46.89 L164.70,46.61 L165.58,46.34 L166.47,46.09 L167.38,45.86 L168.29,45.64 L169.20,45.44 L170.13,45.25 L171.06,45.07 L172.00,44.90 L172.95,44.74 L173.90,44.59 L174.86,44.45 L175.82,44.32 L176.78,44.19 L177.75,44.07 L178.72,43.95 L179.69,43.83 L180.66,43.72 L181.64,43.61 L182.61,43.50 L183.59,43.38 L184.56,43.27 L185.54,43.16 L186.51,43.04 L187.48,42.92 L188.45,42.79 L189.41,42.65 L190.37,42.51 L191.33,42.37 L192.28,42.21 L193.23,42.05 L194.18,41.88 L195.12,41.71 L196.06,41.53 L197.00,41.35 L197.93,41.17 L198.86,40.98 L199.79,40.79 L200.72,40.59 L201.64,40.40 L202.56,40.21 L203.48,40.01 L204.40,39.82 L205.32,39.62 L206.24,39.43 L207.15,39.24 L208.07,39.06 L208.98,38.87 L209.89,38.69 L210.81,38.52 L211.72,38.35 L212.64,38.19 L213.55,38.03 L214.47,37.88 L215.38,37.74 L216.30,37.60 L217.22,37.48 L218.14,37.36 L219.06,37.25 L219.98,37.16 L220.90,37.07 L221.83,37.00 L222.76,36.94 L223.69,36.89 L224.63,36.85 L225.56,36.83 L226.50,36.82 L227.45,36.83 L228.39,36.85 L229.34,36.89 L230.30,36.95 L231.25,37.02 L232.22,37.12 L233.17,37.23 L234.12,37.38 L235.06,37.56 L235.98,37.77 L236.88,38.03 L237.74,38.33 L238.57,38.68 L239.36,39.09 L240.11,39.56 L240.81,40.09 L241.46,40.68 L242.07,41.32 L242.64,42.01 L243.18,42.73 L243.69,43.49 L244.17,44.28 L244.62,45.09 L245.05,45.91 L245.46,46.75 L245.86,47.60 L246.25,48.45 L246.62,49.31 L246.98,50.17 L247.33,51.03 L247.67,51.90 L247.99,52.78 L248.30,53.65 L248.60,54.54 L248.89,55.42 L249.17,56.31 L249.44,57.21 L249.70,58.11 L249.96,59.01 L250.20,59.91 L250.43,60.82 L250.66,61.73 L250.87,62.64 L251.09,63.56 L251.29,64.47 L251.48,65.39 L251.67,66.32 L251.86,67.24 L252.04,68.17 L252.21,69.09 L252.38,70.02 L252.54,70.96 L252.70,71.89 L252.85,72.82 L253.01,73.76 L253.15,74.69 L253.30,75.63 L253.44,76.57 L253.58,77.50 L253.72,78.44 L253.86,79.38 L253.99,80.32 L254.13,81.26 L254.26,82.20 L254.40,83.13 L254.53,84.07 L254.66,85.01 L254.79,85.95 L254.92,86.89 L255.05,87.82 L255.18,88.76 L255.31,89.70 L255.43,90.64 L255.56,91.58 L255.68,92.51 L255.81,93.45 L255.93,94.39 L256.05,95.33 L256.18,96.27 L256.30,97.20 L256.42,98.14 L256.54,99.08 L256.66,100.02 L256.77,100.95 L256.89,101.89 L257.01,102.83 L257.12,103.77 L257.24,104.70 L257.35,105.64 L257.47,106.58 L257.58,107.52 L257.69,108.45 L257.80,109.39 L257.91,110.33 L258.02,111.27 L258.13,112.20 L258.24,113.14 L258.35,114.08 L258.46,115.02 L258.56,115.95 L258.67,116.89 L258.77,117.83 L258.88,118.76 L258.98,119.70 L259.08,120.64 L259.19,121.58 L259.29,122.51 L259.39,123.45 L259.49,124.39 L259.59,125.32 L259.69,126.26 L259.79,127.20 L259.89,128.13 L259.99,129.07 L260.08,130.01 L260.18,130.95 L260.28,131.88 L260.37,132.82 L260.47,133.76 L260.56,134.69 L260.66,135.63 L260.75,136.57 L260.84,137.50 L260.93,138.44 L261.03,139.38 L261.12,140.31 L261.21,141.25 L261.30,142.19 L261.39,143.13 L261.48,144.06 L261.57,145.00 L261.65,145.94 L261.74,146.87 L261.83,147.81 L261.92,148.75 L262.00,149.68 L262.09,150.62 L262.17,151.56 L262.26,152.49 L262.34,153.43 L262.43,154.37 L262.51,155.30 L262.59,156.24 L262.68,157.18 L262.76,158.11 L262.84,159.05 L262.92,159.99 L263.01,160.92 L263.09,161.86 L263.17,162.80 L263.25,163.73 L263.33,164.67 L263.41,165.61 L263.49,166.54 L263.57,167.48 L263.64,168.42 L263.72,169.35 L263.80,170.29 L263.88,171.23 L263.95,172.16 L264.03,173.10 L264.11,174.04 L264.18,174.97 L264.26,175.91 L264.34,176.85 L264.41,177.78 L264.49,178.72 L264.56,179.66 L264.64,180.59 L264.71,181.53 L264.78,182.47 L264.86,183.40 L264.93,184.34 L265.01,185.28 L265.08,186.21 L265.15,187.15 L265.22,188.09 L265.30,189.02 L265.37,189.96 L265.44,190.90 L265.51,191.83 L265.58,192.77 L265.66,193.71 L265.73,194.65 L265.80,195.58 L265.87,196.52 L265.94,197.46 L266.01,198.39 L266.08,199.33 L266.15,200.27 L266.22,201.20 L266.29,202.14 L266.36,203.08 L266.43,204.01 L266.50,204.95 L266.57,205.89 L266.64,206.82 L266.71,207.76 L266.78,208.70 L266.85,209.64 L266.92,210.57 L266.99,211.51 L267.06,212.45 L267.13,213.38 L267.20,214.32 L267.27,215.26 L267.33,216.20 L267.40,217.13 L267.47,218.07 L267.54,219.01 L267.61,219.94 L267.68,220.88 L267.75,221.82 L267.82,222.76 L267.88,223.69 L267.95,224.63 L268.02,225.57 L268.09,226.51 L268.16,227.44 L268.23,228.38 L268.30,229.32 L268.37,230.26 L268.44,231.19 L268.51,232.13 L268.57,233.07 L268.64,234.01 L268.71,234.94 L268.78,235.88 L268.85,236.82 L268.92,237.76 L268.99,238.69 L269.06,239.63 L269.13,240.57 L269.20,241.51 L269.27,242.44 L269.34,243.38 L269.41,244.32 L269.48,245.26 L269.55,246.20 L269.62,247.13 L269.70,248.07 L269.77,249.01 L269.84,249.95 L269.91,250.89 L269.98,251.82 L270.05,252.76 L270.13,253.70 L270.20,254.64 L270.27,255.58 L270.34,256.52 L270.42,257.45 L270.49,258.39 L270.56,259.33 L270.64,260.27 L270.71,261.21 L270.78,262.15 L270.86,263.08 L270.93,264.02 L271.01,264.96 L271.08,265.90 L271.16,266.84 L271.24,267.78 L271.31,268.72 L271.39,269.65 L271.47,270.59 L271.54,271.53 L271.62,272.47 L271.70,273.41 L271.78,274.35 L271.86,275.28 L271.93,276.22 L272.01,277.16 L272.09,278.10 L272.17,279.04 L272.25,279.98 L272.34,280.92 L272.42,281.85 L272.50,282.79 L272.58,283.73 L272.66,284.67 L272.75,285.61 L272.83,286.55 L272.92,287.49 L273.00,288.42 L273.09,289.36 L273.17,290.30 L273.26,291.24 L273.34,292.18 L273.43,293.12 L273.52,294.06 L273.61,294.99 L273.70,295.93 L273.79,296.87 L273.88,297.81 L273.97,298.75 L274.06,299.69 L274.15,300.62 L274.24,301.56 L274.33,302.50 L274.43,303.44 L274.52,304.38 L274.61,305.31 L274.71,306.25 L274.81,307.19 L274.90,308.13 L275.00,309.07 L275.10,310.00 L275.20,310.94 L275.29,311.88 L275.39,312.82 L275.49,313.76 L275.60,314.69 L275.70,315.63 L275.80,316.57 L275.90,317.51 L276.01,318.44 L276.11,319.38 L276.22,320.32 L276.32,321.26 L276.43,322.19 L276.54,323.13 L276.65,324.07 L276.75,325.01 L276.86,325.94 L276.97,326.88 L277.09,327.82 L277.20,328.75 L277.31,329.69 L277.43,330.63 L277.54,331.57 L277.66,332.50 L277.77,333.44 L277.89,334.38 L278.01,335.31 L278.13,336.25 L278.25,337.19 L278.37,338.12 L278.49,339.06 L278.61,339.99 L278.73,340.93 L278.86,341.87 L278.98,342.80 L279.11,343.74 L279.24,344.67 L279.36,345.61 L279.49,346.54 L279.62,347.48 L279.75,348.42 L279.89,349.35 L280.02,350.28 L280.15,351.22 L280.29,352.15 L280.42,353.09 L280.56,354.02 L280.70,354.95 L280.84,355.88 L280.98,356.82 L281.12,357.75 L281.26,358.68 L281.40,359.61 L281.55,360.54 L281.69,361.47 L281.84,362.40 L281.99,363.33 L282.14,364.26 L282.29,365.19 L282.44,366.11 L282.59,367.04 L282.75,367.97 L282.90,368.89 L283.06,369.82 L283.22,370.74 L283.38,371.66 L283.54,372.59 L283.70,373.51 L283.86,374.43 L284.03,375.35 L284.19,376.27 L284.36,377.19 L284.53,378.11 L284.70,379.02 L284.87,379.94 L285.04,380.86 L285.21,381.77 L285.39,382.68 L285.57,383.60 L285.74,384.51 L285.92,385.42 L286.11,386.33 L286.29,387.24 L286.48,388.14 L286.67,389.05 L286.86,389.96 L287.06,390.86 L287.27,391.76 L287.48,392.66 L287.70,393.55 L287.93,394.45 L288.16,395.34 L288.41,396.23 L288.67,397.12 L288.93,398.00 L289.21,398.88 L289.50,399.76 L289.80,400.64 L290.12,401.51 L290.45,402.38 L290.79,403.25 L291.15,404.11 L291.53,404.97 L291.92,405.82 L292.33,406.67 L292.76,407.52 L293.20,408.36 L293.67,409.19 L294.15,410.02 L294.65,410.84 L295.17,411.66 L295.70,412.46 L296.25,413.25 L296.82,414.03 L297.40,414.80 L298.00,415.56 L298.62,416.30 L299.25,417.02 L299.89,417.73 L300.55,418.42 L301.23,419.10 L301.91,419.75 L302.62,420.39 L303.33,421.00 L304.06,421.59 L304.81,422.16 L305.56,422.70 L306.33,423.22 L307.11,423.72 L307.91,424.18 L308.71,424.62 L309.53,425.03 L310.36,425.41 L311.20,425.76 L312.05,426.08 L312.91,426.38 L313.78,426.64 L314.66,426.89 L315.55,427.10 L316.44,427.30 L317.35,427.47 L318.26,427.62 L319.18,427.76 L320.10,427.87 L321.03,427.97 L321.97,428.05 L322.91,428.11 L323.85,428.16 L324.80,428.20 L325.75,428.23 L326.71,428.25 L327.67,428.26 L328.63,428.26 L329.59,428.25 L330.55,428.24 L331.52,428.23 L332.48,428.21 L333.45,428.18 L334.41,428.16 L335.37,428.14 L336.34,428.12 L337.30,428.10 L338.25,428.08 L339.21,428.06 L340.17,428.04 L341.12,428.02 L342.08,428.00 L343.03,427.98 L343.98,427.96 L344.93,427.94 L345.88,427.93 L346.83,427.91 L347.78,427.89 L348.72,427.87 L349.67,427.84 L350.61,427.82 L351.56,427.80 L352.50,427.77 L353.44,427.75 L354.38,427.72 L355.32,427.70 L356.26,427.67 L357.20,427.64 L358.14,427.60 L359.07,427.57 L360.01,427.53 L360.94,427.50 L361.88,427.46 L362.81,427.42 L363.75,427.37 L364.68,427.32 L365.61,427.28 L366.54,427.22 L367.47,427.17 L368.41,427.11 L369.34,427.05 L370.27,426.99 L371.20,426.92 L372.12,426.85 L373.05,426.78 L373.98,426.70 L374.91,426.62 L375.84,426.54 L376.77,426.45 L377.69,426.36 L378.62,426.27 L379.55,426.17 L380.47,426.06 L381.40,425.96 L382.33,425.84 L383.25,425.73 L384.18,425.61 L385.11,425.48 L386.03,425.35 L386.96,425.21 L387.89,425.07 L388.81,424.93 L389.74,424.78 L390.67,424.62 L391.60,424.46 L392.52,424.29 L393.45,424.12 L394.38,423.94 L395.31,423.75 L396.23,423.56 L397.16,423.36 L398.09,423.16 L399.02,422.95 L399.95,422.73 L400.88,422.51 L401.81,422.28 L402.74,422.05 L403.67,421.81 L404.61,421.58 L405.54,421.34 L406.47,421.10 L407.40,420.86 L408.33,420.62 L409.26,420.38 L410.19,420.15 L411.12,419.92 L412.05,419.70 L412.98,419.49 L413.91,419.28 L414.84,419.09 L415.76,418.90 L416.69,418.72 L417.62,418.56 L418.54,418.40 L419.46,418.27 L420.39,418.14 L421.31,418.04 L422.23,417.95 L423.15,417.88 L424.07,417.82 L424.98,417.79 L425.90,417.78 L426.81,417.79 L427.72,417.82 L428.63,417.88 L429.54,417.96 L430.45,418.07 L431.35,418.19 L432.25,418.34 L433.16,418.51 L434.06,418.69 L434.96,418.89 L435.86,419.11 L436.76,419.35 L437.65,419.59 L438.55,419.86 L439.45,420.13 L440.34,420.42 L441.24,420.71 L442.13,421.02 L443.03,421.33 L443.92,421.65 L444.82,421.98 L445.71,422.31 L446.60,422.65 L447.50,422.99 L448.39,423.33 L449.29,423.67 L450.19,424.02 L451.08,424.36 L451.98,424.70 L452.88,425.03 L453.78,425.37 L454.67,425.69 L455.58,426.01 L456.48,426.33 L457.38,426.63 L458.28,426.93 L459.19,427.21 L460.10,427.49 L461.01,427.75 L461.92,427.99 L462.83,428.23 L463.74,428.44 L464.66,428.65 L465.58,428.83 L466.50,429.00 L467.42,429.15 L468.34,429.29 L469.27,429.42 L470.20,429.53 L471.12,429.63 L472.05,429.71 L472.99,429.79 L473.92,429.85 L474.85,429.91 L475.79,429.96 L476.72,429.99 L477.66,430.02 L478.60,430.05 L479.54,430.06 L480.48,430.07 L481.42,430.08 L482.36,430.08 L483.31,430.07 L484.25,430.06 L485.19,430.06 L486.14,430.04 L487.08,430.03 L488.03,430.02 L488.97,430.00 L489.92,429.99 L490.86,429.98 L491.81,429.97 L492.75,429.97 L493.70,429.96 L494.64,429.96 L495.59,429.97 L496.53,429.98 L497.48,430.00 L498.42,430.02 L499.36,430.06 L500.31,430.10 L501.25,430.14 L502.19,430.20 L503.13,430.27 L504.07,430.35" fill="none" stroke="#42a22b" stroke-width="3.6" stroke-linejoin="round" stroke-linecap="butt"/>
<path d="M112.65,137.02 L112.80,136.13 L112.94,135.25 L113.08,134.37 L113.22,133.48 L113.36,132.60 L113.50,131.71 L113.63,130.83 L113.76,129.94 L113.90,129.05 L114.03,128.17 L114.16,127.28 L114.28,126.39 L114.41,125.51 L114.54,124.62 L114.67,123.74 L114.79,122.85 L114.92,121.96 L115.04,121.08 L115.17,120.19 L115.30,119.30 L115.42,118.42 L115.55,117.53 L115.68,116.65 L115.81,115.76 L115.94,114.88 L116.07,114.00 L116.21,113.11 L116.34,112.23 L116.48,111.35 L116.61,110.46 L116.76,109.58 L116.90,108.70 L117.04,107.82 L117.19,106.94 L117.34,106.06 L117.49,105.18 L117.65,104.30 L117.80,103.43 L117.97,102.55 L118.13,101.68 L118.30,100.80 L118.47,99.93 L118.65,99.06 L118.83,98.19 L119.01,97.32 L119.20,96.45 L119.39,95.58 L119.59,94.71 L119.79,93.84 L120.00,92.98 L120.21,92.12 L120.43,91.25 L120.65,90.39 L120.88,89.53 L121.11,88.68 L121.35,87.82 L121.59,86.96 L121.84,86.11 L122.10,85.26 L122.37,84.41 L122.64,83.56 L122.91,82.71 L123.20,81.86 L123.49,81.02 L123.79,80.18 L124.09,79.34 L124.41,78.50 L124.73,77.66 L125.06,76.83 L125.39,75.99 L125.74,75.16 L126.09,74.33 L126.45,73.50 L126.82,72.68 L127.20,71.85 L127.59,71.03 L127.98,70.22 L128.39,69.41 L128.81,68.60 L129.24,67.80 L129.68,67.01 L130.13,66.22 L130.60,65.45 L131.08,64.68 L131.57,63.93 L132.07,63.19 L132.60,62.47 L133.13,61.75 L133.69,61.06 L134.25,60.37 L134.84,59.71 L135.44,59.07 L136.06,58.44 L136.70,57.83 L137.36,57.25 L138.04,56.68 L138.73,56.14 L139.44,55.61 L140.17,55.11 L140.91,54.62 L141.67,54.15 L142.44,53.69 L143.22,53.26 L144.01,52.84 L144.81,52.43 L145.62,52.04 L146.44,51.66 L147.26,51.29 L148.10,50.93 L148.93,50.59 L149.77,50.26 L150.62,49.93 L151.47,49.62 L152.32,49.31 L153.17,49.01 L154.02,48.72 L154.87,48.44 L155.72,48.16 L156.57,47.89 L157.43,47.63 L158.28,47.38 L159.14,47.13 L160.00,46.89 L160.85,46.65 L161.71,46.42 L162.57,46.20 L163.43,45.99 L164.29,45.77 L165.15,45.57 L166.02,45.37 L166.88,45.18 L167.74,44.99 L168.61,44.80 L169.47,44.62 L170.34,44.45 L171.21,44.28 L172.07,44.11 L172.94,43.95 L173.81,43.79 L174.68,43.64 L175.55,43.49 L176.43,43.34 L177.30,43.20 L178.17,43.06 L179.04,42.92 L179.92,42.79 L180.79,42.65 L181.67,42.53 L182.55,42.40 L183.42,42.28 L184.30,42.15 L185.18,42.03 L186.06,41.92 L186.94,41.80 L187.82,41.68 L188.70,41.57 L189.58,41.46 L190.47,41.35 L191.35,41.23 L192.23,41.12 L193.12,41.01 L194.00,40.91 L194.89,40.80 L195.78,40.69 L196.66,40.58 L197.55,40.47 L198.44,40.36 L199.33,40.25 L200.22,40.14 L201.11,40.02 L202.00,39.91 L202.89,39.80 L203.78,39.68 L204.67,39.56 L205.57,39.44 L206.46,39.32 L207.35,39.20 L208.25,39.07 L209.14,38.95 L210.04,38.82 L210.93,38.68 L211.83,38.55 L212.73,38.41 L213.62,38.27 L214.52,38.12 L215.42,37.97 L216.32,37.82 L217.22,37.66 L218.12,37.50 L219.02,37.34 L219.92,37.17 L220.82,37.00 L221.72,36.82 L222.63,36.64 L223.53,36.46 L224.43,36.28 L225.33,36.10 L226.23,35.92 L227.14,35.75 L228.04,35.57 L228.94,35.41 L229.84,35.25 L230.73,35.09 L231.63,34.95 L232.53,34.81 L233.42,34.68 L234.32,34.57 L235.21,34.46 L236.10,34.37 L236.99,34.30 L237.87,34.24 L238.76,34.19 L239.64,34.17 L240.52,34.16 L241.40,34.17 L242.27,34.21 L243.15,34.26 L244.02,34.34 L244.88,34.45 L245.73,34.58 L246.57,34.75 L247.38,34.96 L248.17,35.21 L248.94,35.51 L249.67,35.85 L250.36,36.25 L251.01,36.71 L251.61,37.23 L252.17,37.80 L252.69,38.43 L253.17,39.10 L253.62,39.81 L254.03,40.57 L254.42,41.35 L254.77,42.16 L255.10,42.99 L255.41,43.84 L255.70,44.70 L255.96,45.57 L256.22,46.44 L256.46,47.32 L256.68,48.20 L256.90,49.08 L257.10,49.96 L257.29,50.84 L257.47,51.72 L257.64,52.61 L257.80,53.50 L257.95,54.38 L258.09,55.27 L258.22,56.16 L258.35,57.05 L258.47,57.94 L258.59,58.83 L258.70,59.73 L258.81,60.62 L258.91,61.51 L259.01,62.40 L259.11,63.30 L259.21,64.19 L259.30,65.09 L259.40,65.98 L259.49,66.87 L259.59,67.77 L259.68,68.66 L259.77,69.55 L259.87,70.45 L259.96,71.34 L260.05,72.23 L260.14,73.13 L260.23,74.02 L260.32,74.91 L260.41,75.81 L260.50,76.70 L260.59,77.59 L260.68,78.49 L260.77,79.38 L260.86,80.27 L260.95,81.17 L261.04,82.06 L261.12,82.95 L261.21,83.85 L261.30,84.74 L261.38,85.63 L261.47,86.52 L261.55,87.42 L261.64,88.31 L261.72,89.20 L261.81,90.10 L261.89,90.99 L261.97,91.88 L262.06,92.77 L262.14,93.67 L262.22,94.56 L262.30,95.45 L262.38,96.34 L262.47,97.23 L262.55,98.13 L262.63,99.02 L262.71,99.91 L262.79,100.80 L262.87,101.70 L262.95,102.59 L263.03,103.48 L263.10,104.37 L263.18,105.26 L263.26,106.16 L263.34,107.05 L263.41,107.94 L263.49,108.83 L263.57,109.72 L263.64,110.62 L263.72,111.51 L263.80,112.40 L263.87,113.29 L263.95,114.18 L264.02,115.08 L264.10,115.97 L264.17,116.86 L264.25,117.75 L264.32,118.64 L264.39,119.53 L264.47,120.43 L264.54,121.32 L264.61,122.21 L264.68,123.10 L264.76,123.99 L264.83,124.88 L264.90,125.77 L264.97,126.67 L265.04,127.56 L265.11,128.45 L265.18,129.34 L265.25,130.23 L265.32,131.12 L265.39,132.01 L265.46,132.91 L265.53,133.80 L265.60,134.69 L265.67,135.58 L265.74,136.47 L265.81,137.36 L265.88,138.25 L265.94,139.14 L266.01,140.03 L266.08,140.93 L266.15,141.82 L266.21,142.71 L266.28,143.60 L266.35,144.49 L266.42,145.38 L266.48,146.27 L266.55,147.16 L266.61,148.05 L266.68,148.95 L266.75,149.84 L266.81,150.73 L266.88,151.62 L266.94,152.51 L267.01,153.40 L267.07,154.29 L267.14,155.18 L267.20,156.07 L267.27,156.96 L267.33,157.85 L267.39,158.75 L267.46,159.64 L267.52,160.53 L267.59,161.42 L267.65,162.31 L267.71,163.20 L267.78,164.09 L267.84,164.98 L267.90,165.87 L267.97,166.76 L268.03,167.65 L268.09,168.54 L268.15,169.43 L268.22,170.33 L268.28,171.22 L268.34,172.11 L268.40,173.00 L268.46,173.89 L268.53,174.78 L268.59,175.67 L268.65,176.56 L268.71,177.45 L268.77,178.34 L268.83,179.23 L268.90,180.12 L268.96,181.01 L269.02,181.90 L269.08,182.80 L269.14,183.69 L269.20,184.58 L269.26,185.47 L269.32,186.36 L269.38,187.25 L269.45,188.14 L269.51,189.03 L269.57,189.92 L269.63,190.81 L269.69,191.70 L269.75,192.59 L269.81,193.48 L269.87,194.37 L269.93,195.27 L269.99,196.16 L270.05,197.05 L270.11,197.94 L270.17,198.83 L270.23,199.72 L270.29,200.61 L270.35,201.50 L270.41,202.39 L270.47,203.28 L270.53,204.17 L270.59,205.06 L270.65,205.95 L270.71,206.85 L270.77,207.74 L270.83,208.63 L270.89,209.52 L270.95,210.41 L271.01,211.30 L271.07,212.19 L271.14,213.08 L271.20,213.97 L271.26,214.86 L271.32,215.75 L271.38,216.64 L271.44,217.54 L271.50,218.43 L271.56,219.32 L271.62,220.21 L271.68,221.10 L271.74,221.99 L271.80,222.88 L271.86,223.77 L271.92,224.66 L271.98,225.55 L272.04,226.45 L272.11,227.34 L272.17,228.23 L272.23,229.12 L272.29,230.01 L272.35,230.90 L272.41,231.79 L272.47,232.68 L272.54,233.58 L272.60,234.47 L272.66,235.36 L272.72,236.25 L272.78,237.14 L272.85,238.03 L272.91,238.92 L272.97,239.81 L273.03,240.71 L273.10,241.60 L273.16,242.49 L273.22,243.38 L273.28,244.27 L273.35,245.16 L273.41,246.05 L273.47,246.95 L273.54,247.84 L273.60,248.73 L273.66,249.62 L273.73,250.51 L273.79,251.40 L273.86,252.30 L273.92,253.19 L273.99,254.08 L274.05,254.97 L274.11,255.86 L274.18,256.75 L274.24,257.65 L274.31,258.54 L274.38,259.43 L274.44,260.32 L274.51,261.21 L274.57,262.11 L274.64,263.00 L274.71,263.89 L274.77,264.78 L274.84,265.67 L274.91,266.57 L274.97,267.46 L275.04,268.35 L275.11,269.24 L275.18,270.14 L275.24,271.03 L275.31,271.92 L275.38,272.81 L275.45,273.70 L275.52,274.60 L275.59,275.49 L275.66,276.38 L275.73,277.27 L275.80,278.17 L275.87,279.06 L275.94,279.95 L276.01,280.84 L276.08,281.74 L276.15,282.63 L276.23,283.52 L276.30,284.41 L276.37,285.30 L276.44,286.20 L276.52,287.09 L276.59,287.98 L276.67,288.87 L276.74,289.77 L276.82,290.66 L276.89,291.55 L276.97,292.44 L277.04,293.33 L277.12,294.23 L277.20,295.12 L277.28,296.01 L277.35,296.90 L277.43,297.79 L277.51,298.68 L277.59,299.58 L277.67,300.47 L277.75,301.36 L277.83,302.25 L277.91,303.14 L277.99,304.03 L278.08,304.92 L278.16,305.82 L278.24,306.71 L278.33,307.60 L278.41,308.49 L278.50,309.38 L278.58,310.27 L278.67,311.16 L278.76,312.05 L278.84,312.94 L278.93,313.83 L279.02,314.72 L279.11,315.61 L279.20,316.50 L279.29,317.39 L279.38,318.28 L279.47,319.17 L279.56,320.06 L279.66,320.95 L279.75,321.84 L279.84,322.73 L279.94,323.62 L280.03,324.51 L280.13,325.40 L280.23,326.29 L280.33,327.17 L280.42,328.06 L280.52,328.95 L280.62,329.84 L280.72,330.73 L280.82,331.61 L280.93,332.50 L281.03,333.39 L281.13,334.28 L281.24,335.17 L281.34,336.05 L281.45,336.94 L281.55,337.83 L281.66,338.71 L281.77,339.60 L281.88,340.49 L281.99,341.37 L282.10,342.26 L282.21,343.14 L282.32,344.03 L282.44,344.92 L282.55,345.80 L282.66,346.69 L282.78,347.57 L282.90,348.46 L283.01,349.34 L283.13,350.22 L283.25,351.11 L283.37,351.99 L283.49,352.88 L283.61,353.76 L283.74,354.64 L283.86,355.53 L283.99,356.41 L284.11,357.29 L284.24,358.18 L284.36,359.06 L284.49,359.94 L284.62,360.82 L284.75,361.70 L284.88,362.59 L285.02,363.47 L285.15,364.35 L285.29,365.23 L285.42,366.11 L285.56,366.99 L285.70,367.87 L285.84,368.75 L285.98,369.63 L286.13,370.50 L286.28,371.38 L286.43,372.26 L286.58,373.14 L286.74,374.01 L286.89,374.89 L287.05,375.76 L287.22,376.63 L287.39,377.51 L287.56,378.38 L287.73,379.25 L287.91,380.12 L288.09,380.99 L288.27,381.86 L288.46,382.73 L288.66,383.59 L288.85,384.46 L289.06,385.32 L289.26,386.19 L289.48,387.05 L289.69,387.91 L289.91,388.77 L290.14,389.63 L290.37,390.49 L290.61,391.34 L290.85,392.20 L291.10,393.05 L291.35,393.90 L291.61,394.75 L291.88,395.60 L292.15,396.45 L292.43,397.29 L292.72,398.14 L293.01,398.98 L293.31,399.82 L293.61,400.66 L293.92,401.50 L294.25,402.33 L294.58,403.16 L294.91,403.99 L295.26,404.81 L295.62,405.62 L295.99,406.43 L296.37,407.23 L296.76,408.02 L297.17,408.81 L297.58,409.59 L298.01,410.36 L298.46,411.12 L298.91,411.86 L299.39,412.60 L299.87,413.33 L300.38,414.04 L300.89,414.74 L301.43,415.43 L301.98,416.10 L302.55,416.76 L303.14,417.41 L303.75,418.03 L304.37,418.65 L305.02,419.24 L305.68,419.82 L306.36,420.38 L307.06,420.92 L307.77,421.45 L308.50,421.95 L309.25,422.44 L310.01,422.92 L310.78,423.37 L311.56,423.81 L312.36,424.22 L313.16,424.62 L313.98,425.00 L314.81,425.36 L315.64,425.71 L316.48,426.03 L317.33,426.33 L318.19,426.61 L319.06,426.88 L319.92,427.12 L320.80,427.34 L321.67,427.55 L322.55,427.73 L323.44,427.89 L324.32,428.04 L325.21,428.16 L326.10,428.27 L326.99,428.36 L327.88,428.43 L328.78,428.49 L329.68,428.53 L330.58,428.56 L331.48,428.58 L332.38,428.59 L333.28,428.58 L334.19,428.56 L335.09,428.54 L336.00,428.50 L336.91,428.45 L337.82,428.40 L338.72,428.34 L339.63,428.27 L340.54,428.20 L341.45,428.13 L342.36,428.05 L343.26,427.96 L344.17,427.88 L345.08,427.79 L345.98,427.70 L346.89,427.62 L347.79,427.53 L348.70,427.44 L349.60,427.36 L350.50,427.28 L351.40,427.20 L352.30,427.13 L353.19,427.06 L354.09,426.99 L354.98,426.92 L355.87,426.86 L356.76,426.80 L357.65,426.74 L358.54,426.68 L359.43,426.62 L360.32,426.56 L361.20,426.50 L362.08,426.44 L362.97,426.38 L363.85,426.32 L364.73,426.26 L365.61,426.20 L366.48,426.13 L367.36,426.06 L368.24,426.00 L369.11,425.92 L369.99,425.85 L370.86,425.77 L371.73,425.69 L372.60,425.60 L373.47,425.52 L374.34,425.42 L375.21,425.32 L376.08,425.22 L376.95,425.11 L377.81,425.00 L378.68,424.88 L379.54,424.75 L380.41,424.61 L381.27,424.47 L382.13,424.33 L383.00,424.17 L383.86,424.01 L384.72,423.84 L385.58,423.66 L386.44,423.47 L387.30,423.27 L388.16,423.07 L389.02,422.85 L389.88,422.63 L390.74,422.39 L391.60,422.14 L392.45,421.89 L393.31,421.62 L394.17,421.34 L395.02,421.05 L395.88,420.74 L396.74,420.43 L397.59,420.10 L398.45,419.76 L399.31,419.40 L400.16,419.04 L401.02,418.65 L401.87,418.26 L402.73,417.86 L403.58,417.45 L404.44,417.04 L405.29,416.62 L406.14,416.20 L407.00,415.78 L407.85,415.36 L408.70,414.94 L409.55,414.53 L410.40,414.12 L411.24,413.72 L412.09,413.33 L412.93,412.96 L413.78,412.60 L414.62,412.25 L415.46,411.92 L416.30,411.61 L417.13,411.32 L417.97,411.05 L418.80,410.81 L419.63,410.59 L420.46,410.40 L421.29,410.24 L422.11,410.11 L422.93,410.01 L423.75,409.95 L424.57,409.93 L425.38,409.94 L426.19,410.00 L427.00,410.09 L427.81,410.23 L428.61,410.41 L429.41,410.63 L430.21,410.88 L431.00,411.17 L431.80,411.49 L432.59,411.84 L433.37,412.22 L434.16,412.63 L434.94,413.06 L435.73,413.51 L436.51,413.98 L437.29,414.46 L438.06,414.96 L438.84,415.48 L439.61,416.00 L440.39,416.53 L441.16,417.07 L441.93,417.61 L442.70,418.15 L443.47,418.70 L444.24,419.24 L445.01,419.77 L445.77,420.30 L446.54,420.82 L447.31,421.33 L448.07,421.82 L448.84,422.30 L449.61,422.77 L450.38,423.22 L451.15,423.66 L451.92,424.09 L452.69,424.51 L453.46,424.91 L454.24,425.29 L455.02,425.67 L455.80,426.02 L456.58,426.37 L457.37,426.70 L458.16,427.02 L458.96,427.32 L459.75,427.61 L460.56,427.88 L461.37,428.14 L462.18,428.38 L463.00,428.61 L463.82,428.82 L464.65,429.02 L465.49,429.21 L466.33,429.38 L467.18,429.53 L468.04,429.67 L468.90,429.79 L469.78,429.90 L470.66,429.99 L471.54,430.07 L472.44,430.13 L473.34,430.18 L474.24,430.22 L475.15,430.25 L476.07,430.26 L476.99,430.27 L477.91,430.27 L478.84,430.26 L479.77,430.25 L480.70,430.22 L481.64,430.20 L482.57,430.16 L483.51,430.13 L484.45,430.09 L485.38,430.05 L486.32,430.01 L487.26,429.97 L488.19,429.93 L489.12,429.89 L490.05,429.86 L490.98,429.82 L491.90,429.80 L492.82,429.77 L493.73,429.76 L494.64,429.75 L495.54,429.74 L496.44,429.75 L497.33,429.76 L498.21,429.79 L499.08,429.82 L499.95,429.87 L500.81,429.93 L501.66,430.01 L502.50,430.09 L503.33,430.20 L504.15,430.32" fill="none" stroke="#0c3651" stroke-width="3.6" stroke-linejoin="round" stroke-linecap="butt"/>
<path d="M112.32,99.46 L112.41,98.60 L112.50,97.74 L112.59,96.88 L112.69,96.02 L112.80,95.16 L112.91,94.30 L113.02,93.43 L113.14,92.57 L113.27,91.71 L113.40,90.84 L113.54,89.98 L113.68,89.12 L113.83,88.26 L113.98,87.40 L114.14,86.54 L114.31,85.68 L114.48,84.82 L114.66,83.96 L114.85,83.10 L115.04,82.25 L115.24,81.39 L115.45,80.54 L115.66,79.69 L115.89,78.84 L116.12,77.99 L116.36,77.14 L116.60,76.30 L116.86,75.46 L117.12,74.62 L117.39,73.78 L117.67,72.95 L117.96,72.12 L118.26,71.29 L118.57,70.47 L118.89,69.64 L119.21,68.82 L119.55,68.01 L119.90,67.20 L120.25,66.39 L120.62,65.58 L121.00,64.78 L121.38,63.98 L121.78,63.19 L122.19,62.40 L122.61,61.62 L123.04,60.85 L123.48,60.08 L123.94,59.32 L124.41,58.58 L124.89,57.84 L125.38,57.12 L125.89,56.40 L126.40,55.71 L126.94,55.02 L127.48,54.36 L128.04,53.71 L128.62,53.08 L129.21,52.46 L129.81,51.87 L130.43,51.30 L131.07,50.75 L131.72,50.22 L132.39,49.72 L133.07,49.24 L133.77,48.79 L134.49,48.36 L135.22,47.96 L135.97,47.59 L136.74,47.24 L137.52,46.91 L138.31,46.61 L139.12,46.33 L139.94,46.07 L140.77,45.82 L141.61,45.60 L142.46,45.38 L143.31,45.19 L144.18,45.00 L145.05,44.83 L145.92,44.66 L146.80,44.50 L147.69,44.35 L148.57,44.21 L149.46,44.06 L150.35,43.93 L151.24,43.79 L152.13,43.65 L153.02,43.51 L153.90,43.37 L154.79,43.23 L155.67,43.08 L156.55,42.94 L157.43,42.79 L158.31,42.65 L159.19,42.50 L160.06,42.35 L160.94,42.20 L161.81,42.05 L162.69,41.90 L163.56,41.75 L164.43,41.60 L165.30,41.45 L166.17,41.30 L167.04,41.14 L167.90,40.99 L168.77,40.84 L169.63,40.69 L170.50,40.53 L171.36,40.38 L172.22,40.22 L173.09,40.07 L173.95,39.92 L174.81,39.76 L175.67,39.61 L176.52,39.46 L177.38,39.30 L178.24,39.15 L179.10,39.00 L179.95,38.84 L180.81,38.69 L181.67,38.54 L182.52,38.39 L183.38,38.24 L184.23,38.09 L185.08,37.94 L185.94,37.79 L186.79,37.65 L187.65,37.50 L188.50,37.36 L189.35,37.21 L190.20,37.07 L191.06,36.93 L191.91,36.78 L192.76,36.64 L193.61,36.51 L194.46,36.37 L195.32,36.23 L196.17,36.10 L197.02,35.97 L197.87,35.83 L198.72,35.70 L199.58,35.58 L200.43,35.45 L201.28,35.32 L202.14,35.20 L202.99,35.08 L203.84,34.96 L204.70,34.84 L205.55,34.73 L206.41,34.61 L207.26,34.50 L208.12,34.39 L208.97,34.28 L209.83,34.17 L210.69,34.07 L211.54,33.96 L212.40,33.85 L213.26,33.74 L214.12,33.64 L214.98,33.53 L215.84,33.42 L216.71,33.31 L217.57,33.20 L218.43,33.09 L219.30,32.98 L220.17,32.86 L221.03,32.75 L221.90,32.63 L222.77,32.51 L223.64,32.38 L224.51,32.26 L225.39,32.13 L226.26,31.99 L227.14,31.86 L228.02,31.72 L228.89,31.57 L229.77,31.42 L230.66,31.27 L231.54,31.11 L232.42,30.95 L233.31,30.78 L234.20,30.61 L235.09,30.43 L235.98,30.25 L236.87,30.06 L237.77,29.86 L238.67,29.66 L239.57,29.45 L240.47,29.23 L241.37,29.01 L242.27,28.79 L243.17,28.57 L244.06,28.37 L244.95,28.19 L245.82,28.03 L246.68,27.91 L247.53,27.83 L248.36,27.79 L249.17,27.80 L249.95,27.88 L250.71,28.02 L251.44,28.23 L252.14,28.52 L252.81,28.90 L253.45,29.36 L254.05,29.90 L254.62,30.51 L255.16,31.17 L255.67,31.89 L256.15,32.64 L256.61,33.43 L257.03,34.23 L257.43,35.05 L257.81,35.88 L258.16,36.71 L258.48,37.54 L258.79,38.38 L259.07,39.22 L259.34,40.06 L259.58,40.91 L259.81,41.76 L260.02,42.61 L260.22,43.46 L260.40,44.32 L260.57,45.18 L260.72,46.04 L260.87,46.91 L261.00,47.77 L261.13,48.64 L261.25,49.51 L261.36,50.38 L261.46,51.25 L261.56,52.12 L261.66,52.99 L261.75,53.86 L261.85,54.73 L261.94,55.61 L262.03,56.48 L262.12,57.35 L262.21,58.22 L262.31,59.09 L262.40,59.97 L262.49,60.84 L262.58,61.71 L262.67,62.58 L262.76,63.45 L262.86,64.32 L262.95,65.19 L263.04,66.06 L263.13,66.94 L263.22,67.81 L263.31,68.68 L263.40,69.55 L263.49,70.42 L263.58,71.29 L263.67,72.16 L263.76,73.03 L263.85,73.90 L263.94,74.77 L264.03,75.64 L264.12,76.51 L264.21,77.38 L264.30,78.25 L264.39,79.12 L264.48,79.99 L264.57,80.86 L264.66,81.73 L264.75,82.60 L264.83,83.47 L264.92,84.34 L265.01,85.21 L265.10,86.08 L265.18,86.95 L265.27,87.82 L265.36,88.69 L265.44,89.56 L265.53,90.43 L265.62,91.30 L265.70,92.17 L265.79,93.04 L265.87,93.91 L265.96,94.78 L266.04,95.65 L266.13,96.52 L266.21,97.39 L266.29,98.26 L266.38,99.13 L266.46,100.00 L266.54,100.87 L266.62,101.74 L266.71,102.61 L266.79,103.48 L266.87,104.35 L266.95,105.22 L267.03,106.09 L267.11,106.96 L267.19,107.83 L267.27,108.70 L267.35,109.57 L267.42,110.44 L267.50,111.31 L267.58,112.18 L267.66,113.05 L267.73,113.92 L267.81,114.79 L267.89,115.66 L267.96,116.54 L268.04,117.41 L268.11,118.28 L268.18,119.15 L268.26,120.02 L268.33,120.89 L268.40,121.76 L268.47,122.63 L268.55,123.50 L268.62,124.37 L268.69,125.25 L268.76,126.12 L268.83,126.99 L268.90,127.86 L268.96,128.73 L269.03,129.60 L269.10,130.48 L269.17,131.35 L269.23,132.22 L269.30,133.09 L269.36,133.96 L269.43,134.84 L269.49,135.71 L269.56,136.58 L269.62,137.45 L269.68,138.33 L269.75,139.20 L269.81,140.07 L269.87,140.94 L269.93,141.82 L269.99,142.69 L270.06,143.56 L270.12,144.44 L270.18,145.31 L270.24,146.18 L270.29,147.06 L270.35,147.93 L270.41,148.80 L270.47,149.68 L270.53,150.55 L270.59,151.42 L270.64,152.30 L270.70,153.17 L270.76,154.04 L270.81,154.92 L270.87,155.79 L270.92,156.67 L270.98,157.54 L271.03,158.41 L271.09,159.29 L271.14,160.16 L271.20,161.04 L271.25,161.91 L271.30,162.78 L271.36,163.66 L271.41,164.53 L271.46,165.41 L271.51,166.28 L271.56,167.16 L271.62,168.03 L271.67,168.91 L271.72,169.78 L271.77,170.65 L271.82,171.53 L271.87,172.40 L271.92,173.28 L271.97,174.15 L272.02,175.03 L272.07,175.90 L272.12,176.78 L272.17,177.65 L272.22,178.53 L272.27,179.40 L272.32,180.28 L272.37,181.15 L272.42,182.03 L272.47,182.90 L272.51,183.78 L272.56,184.65 L272.61,185.53 L272.66,186.40 L272.71,187.28 L272.75,188.15 L272.80,189.03 L272.85,189.91 L272.90,190.78 L272.94,191.66 L272.99,192.53 L273.04,193.41 L273.09,194.28 L273.13,195.16 L273.18,196.03 L273.23,196.91 L273.27,197.78 L273.32,198.66 L273.37,199.54 L273.41,200.41 L273.46,201.29 L273.51,202.16 L273.55,203.04 L273.60,203.91 L273.65,204.79 L273.69,205.66 L273.74,206.54 L273.79,207.41 L273.83,208.29 L273.88,209.17 L273.93,210.04 L273.97,210.92 L274.02,211.79 L274.07,212.67 L274.11,213.54 L274.16,214.42 L274.21,215.29 L274.26,216.17 L274.30,217.05 L274.35,217.92 L274.40,218.80 L274.44,219.67 L274.49,220.55 L274.54,221.42 L274.59,222.30 L274.63,223.17 L274.68,224.05 L274.73,224.93 L274.78,225.80 L274.83,226.68 L274.88,227.55 L274.92,228.43 L274.97,229.30 L275.02,230.18 L275.07,231.05 L275.12,231.93 L275.17,232.80 L275.22,233.68 L275.27,234.55 L275.32,235.43 L275.37,236.30 L275.42,237.18 L275.47,238.06 L275.52,238.93 L275.57,239.81 L275.62,240.68 L275.67,241.56 L275.73,242.43 L275.78,243.31 L275.83,244.18 L275.88,245.06 L275.93,245.93 L275.99,246.80 L276.04,247.68 L276.09,248.55 L276.15,249.43 L276.20,250.30 L276.26,251.18 L276.31,252.05 L276.37,252.93 L276.42,253.80 L276.48,254.68 L276.53,255.55 L276.59,256.43 L276.64,257.30 L276.70,258.17 L276.76,259.05 L276.82,259.92 L276.87,260.80 L276.93,261.67 L276.99,262.54 L277.05,263.42 L277.11,264.29 L277.17,265.17 L277.23,266.04 L277.29,266.91 L277.35,267.79 L277.41,268.66 L277.47,269.54 L277.54,270.41 L277.60,271.28 L277.66,272.16 L277.73,273.03 L277.79,273.90 L277.85,274.78 L277.92,275.65 L277.98,276.52 L278.05,277.39 L278.12,278.27 L278.18,279.14 L278.25,280.01 L278.32,280.89 L278.38,281.76 L278.45,282.63 L278.52,283.50 L278.59,284.38 L278.66,285.25 L278.73,286.12 L278.80,286.99 L278.88,287.87 L278.95,288.74 L279.02,289.61 L279.09,290.48 L279.17,291.35 L279.24,292.23 L279.32,293.10 L279.39,293.97 L279.47,294.84 L279.54,295.71 L279.62,296.58 L279.70,297.45 L279.78,298.33 L279.86,299.20 L279.94,300.07 L280.02,300.94 L280.10,301.81 L280.18,302.68 L280.26,303.55 L280.34,304.42 L280.43,305.29 L280.51,306.16 L280.60,307.03 L280.68,307.90 L280.77,308.77 L280.85,309.64 L280.94,310.51 L281.03,311.38 L281.12,312.25 L281.21,313.12 L281.30,313.99 L281.39,314.86 L281.48,315.73 L281.57,316.60 L281.67,317.47 L281.76,318.34 L281.85,319.21 L281.95,320.08 L282.04,320.94 L282.14,321.81 L282.24,322.68 L282.34,323.55 L282.44,324.42 L282.53,325.29 L282.64,326.15 L282.74,327.02 L282.84,327.89 L282.94,328.76 L283.05,329.62 L283.15,330.49 L283.25,331.36 L283.36,332.23 L283.47,333.09 L283.58,333.96 L283.68,334.83 L283.79,335.69 L283.90,336.56 L284.01,337.43 L284.13,338.29 L284.24,339.16 L284.35,340.02 L284.47,340.89 L284.58,341.76 L284.70,342.62 L284.82,343.49 L284.93,344.35 L285.05,345.22 L285.17,346.08 L285.29,346.95 L285.42,347.81 L285.54,348.68 L285.66,349.54 L285.79,350.41 L285.91,351.27 L286.04,352.14 L286.17,353.00 L286.29,353.86 L286.42,354.73 L286.55,355.59 L286.68,356.45 L286.82,357.32 L286.95,358.18 L287.08,359.04 L287.22,359.91 L287.35,360.77 L287.49,361.63 L287.63,362.49 L287.77,363.36 L287.91,364.22 L288.05,365.08 L288.19,365.94 L288.34,366.80 L288.48,367.66 L288.63,368.53 L288.77,369.39 L288.92,370.25 L289.07,371.11 L289.22,371.97 L289.37,372.83 L289.52,373.69 L289.67,374.55 L289.83,375.41 L289.98,376.27 L290.14,377.13 L290.30,377.99 L290.45,378.85 L290.61,379.71 L290.77,380.57 L290.94,381.43 L291.10,382.28 L291.26,383.14 L291.43,384.00 L291.60,384.86 L291.76,385.72 L291.93,386.58 L292.10,387.43 L292.28,388.29 L292.46,389.14 L292.64,390.00 L292.83,390.85 L293.02,391.70 L293.22,392.55 L293.43,393.39 L293.64,394.24 L293.86,395.08 L294.09,395.92 L294.33,396.75 L294.58,397.58 L294.84,398.41 L295.11,399.23 L295.40,400.05 L295.69,400.87 L296.00,401.68 L296.33,402.49 L296.66,403.29 L297.02,404.08 L297.38,404.87 L297.77,405.66 L298.17,406.44 L298.59,407.21 L299.03,407.97 L299.48,408.73 L299.95,409.48 L300.44,410.23 L300.95,410.96 L301.47,411.69 L302.00,412.40 L302.55,413.11 L303.12,413.80 L303.70,414.48 L304.30,415.16 L304.91,415.81 L305.53,416.46 L306.16,417.09 L306.81,417.71 L307.47,418.31 L308.14,418.90 L308.82,419.47 L309.51,420.03 L310.22,420.57 L310.93,421.09 L311.65,421.60 L312.38,422.08 L313.13,422.55 L313.87,423.00 L314.63,423.43 L315.40,423.83 L316.17,424.22 L316.95,424.59 L317.73,424.93 L318.52,425.25 L319.32,425.55 L320.12,425.82 L320.93,426.08 L321.75,426.32 L322.57,426.53 L323.39,426.73 L324.22,426.91 L325.05,427.08 L325.89,427.22 L326.73,427.35 L327.58,427.47 L328.43,427.57 L329.28,427.66 L330.14,427.73 L331.00,427.79 L331.86,427.83 L332.73,427.87 L333.60,427.89 L334.47,427.90 L335.35,427.91 L336.22,427.90 L337.10,427.89 L337.98,427.86 L338.87,427.83 L339.75,427.79 L340.63,427.75 L341.52,427.70 L342.41,427.65 L343.30,427.59 L344.18,427.52 L345.07,427.46 L345.96,427.39 L346.85,427.32 L347.74,427.25 L348.63,427.17 L349.52,427.09 L350.41,427.01 L351.30,426.92 L352.18,426.84 L353.07,426.75 L353.96,426.65 L354.85,426.56 L355.73,426.46 L356.62,426.36 L357.50,426.26 L358.38,426.15 L359.26,426.04 L360.15,425.93 L361.02,425.81 L361.90,425.70 L362.78,425.58 L363.65,425.45 L364.53,425.33 L365.40,425.20 L366.27,425.07 L367.14,424.93 L368.00,424.79 L368.87,424.65 L369.73,424.51 L370.59,424.36 L371.45,424.21 L372.30,424.06 L373.16,423.91 L374.01,423.75 L374.86,423.59 L375.71,423.42 L376.55,423.25 L377.39,423.08 L378.24,422.90 L379.08,422.72 L379.91,422.54 L380.75,422.35 L381.58,422.15 L382.42,421.95 L383.25,421.75 L384.08,421.54 L384.91,421.33 L385.73,421.11 L386.56,420.89 L387.38,420.66 L388.20,420.43 L389.03,420.19 L389.85,419.94 L390.67,419.69 L391.48,419.43 L392.30,419.17 L393.12,418.90 L393.93,418.62 L394.75,418.34 L395.56,418.05 L396.37,417.76 L397.18,417.46 L398.00,417.15 L398.81,416.83 L399.62,416.51 L400.43,416.18 L401.23,415.84 L402.04,415.50 L402.85,415.14 L403.66,414.78 L404.47,414.41 L405.27,414.04 L406.08,413.65 L406.89,413.26 L407.69,412.86 L408.50,412.45 L409.31,412.03 L410.11,411.61 L410.92,411.19 L411.72,410.76 L412.53,410.34 L413.34,409.93 L414.14,409.52 L414.95,409.12 L415.75,408.73 L416.56,408.35 L417.37,407.99 L418.17,407.65 L418.98,407.32 L419.78,407.02 L420.59,406.74 L421.39,406.49 L422.20,406.27 L423.01,406.08 L423.81,405.92 L424.62,405.79 L425.42,405.70 L426.23,405.65 L427.04,405.65 L427.84,405.68 L428.65,405.77 L429.45,405.89 L430.26,406.08 L431.07,406.31 L431.87,406.59 L432.67,406.92 L433.48,407.30 L434.27,407.71 L435.07,408.17 L435.85,408.65 L436.63,409.17 L437.40,409.71 L438.17,410.28 L438.92,410.86 L439.66,411.47 L440.38,412.08 L441.10,412.70 L441.80,413.33 L442.48,413.96 L443.16,414.59 L443.82,415.22 L444.47,415.85 L445.11,416.47 L445.75,417.09 L446.38,417.71 L447.02,418.31 L447.65,418.91 L448.28,419.50 L448.91,420.07 L449.55,420.63 L450.19,421.18 L450.85,421.71 L451.51,422.22 L452.18,422.71 L452.86,423.18 L453.56,423.63 L454.27,424.06 L455.00,424.47 L455.73,424.86 L456.48,425.23 L457.23,425.58 L458.00,425.91 L458.78,426.23 L459.57,426.52 L460.37,426.81 L461.18,427.07 L461.99,427.32 L462.82,427.56 L463.65,427.78 L464.49,427.98 L465.34,428.18 L466.20,428.35 L467.06,428.52 L467.93,428.67 L468.80,428.82 L469.68,428.95 L470.56,429.07 L471.45,429.18 L472.35,429.28 L473.24,429.37 L474.15,429.45 L475.05,429.52 L475.96,429.59 L476.87,429.65 L477.78,429.70 L478.69,429.75 L479.60,429.78 L480.52,429.82 L481.44,429.85 L482.35,429.87 L483.27,429.89 L484.18,429.91 L485.10,429.93 L486.01,429.94 L486.92,429.95 L487.83,429.96 L488.73,429.97 L489.64,429.97 L490.54,429.98 L491.43,429.99 L492.32,430.00 L493.21,430.01 L494.09,430.02 L494.97,430.04 L495.84,430.05 L496.71,430.08 L497.57,430.10 L498.42,430.13 L499.27,430.17 L500.11,430.21 L500.94,430.25 L501.76,430.31 L502.57,430.37 L503.38,430.43 L504.17,430.51" fill="none" stroke="#9e3b0b" stroke-width="3.6" stroke-linejoin="round" stroke-linecap="butt"/>
<path d="M112.47,81.08 L112.43,80.23 L112.42,79.37 L112.44,78.51 L112.48,77.65 L112.54,76.78 L112.64,75.92 L112.75,75.06 L112.90,74.20 L113.06,73.34 L113.25,72.48 L113.46,71.63 L113.70,70.78 L113.96,69.94 L114.24,69.11 L114.55,68.28 L114.87,67.47 L115.22,66.66 L115.59,65.86 L115.98,65.08 L116.39,64.30 L116.82,63.55 L117.27,62.80 L117.74,62.07 L118.23,61.36 L118.74,60.66 L119.27,59.98 L119.81,59.32 L120.38,58.68 L120.96,58.06 L121.56,57.46 L122.17,56.88 L122.80,56.33 L123.45,55.80 L124.12,55.29 L124.80,54.82 L125.49,54.37 L126.20,53.94 L126.93,53.55 L127.66,53.18 L128.42,52.85 L129.18,52.54 L129.96,52.25 L130.75,51.99 L131.54,51.74 L132.35,51.52 L133.17,51.31 L133.99,51.12 L134.82,50.94 L135.66,50.78 L136.50,50.62 L137.35,50.47 L138.20,50.32 L139.05,50.18 L139.90,50.04 L140.76,49.90 L141.61,49.76 L142.47,49.62 L143.32,49.47 L144.18,49.31 L145.03,49.15 L145.88,48.99 L146.73,48.83 L147.58,48.66 L148.43,48.49 L149.28,48.31 L150.13,48.13 L150.97,47.95 L151.82,47.77 L152.66,47.59 L153.51,47.40 L154.35,47.21 L155.20,47.02 L156.04,46.83 L156.88,46.64 L157.72,46.45 L158.56,46.25 L159.40,46.06 L160.24,45.86 L161.08,45.67 L161.92,45.48 L162.76,45.28 L163.60,45.09 L164.44,44.90 L165.28,44.71 L166.12,44.52 L166.95,44.33 L167.79,44.15 L168.63,43.96 L169.47,43.78 L170.30,43.60 L171.14,43.43 L171.98,43.25 L172.81,43.08 L173.65,42.92 L174.48,42.75 L175.32,42.59 L176.16,42.44 L176.99,42.29 L177.83,42.14 L178.67,42.00 L179.50,41.86 L180.34,41.73 L181.18,41.60 L182.01,41.48 L182.85,41.36 L183.69,41.24 L184.52,41.13 L185.36,41.03 L186.20,40.93 L187.04,40.83 L187.87,40.73 L188.71,40.64 L189.55,40.55 L190.39,40.46 L191.23,40.38 L192.07,40.30 L192.91,40.22 L193.75,40.14 L194.59,40.06 L195.43,39.98 L196.27,39.91 L197.11,39.83 L197.95,39.76 L198.79,39.68 L199.63,39.61 L200.47,39.53 L201.31,39.46 L202.16,39.38 L203.00,39.30 L203.84,39.22 L204.68,39.14 L205.53,39.06 L206.37,38.98 L207.22,38.89 L208.06,38.80 L208.90,38.71 L209.75,38.61 L210.60,38.52 L211.44,38.42 L212.29,38.31 L213.13,38.20 L213.98,38.09 L214.83,37.97 L215.68,37.85 L216.52,37.72 L217.37,37.59 L218.22,37.45 L219.07,37.31 L219.92,37.16 L220.77,37.01 L221.62,36.85 L222.47,36.68 L223.32,36.50 L224.18,36.32 L225.03,36.13 L225.88,35.94 L226.74,35.73 L227.59,35.52 L228.44,35.30 L229.30,35.07 L230.15,34.84 L231.01,34.61 L231.87,34.37 L232.73,34.13 L233.59,33.89 L234.46,33.66 L235.33,33.42 L236.19,33.19 L237.07,32.97 L237.94,32.76 L238.82,32.56 L239.71,32.36 L240.59,32.18 L241.48,32.02 L242.37,31.87 L243.26,31.74 L244.15,31.63 L245.04,31.54 L245.91,31.48 L246.78,31.44 L247.64,31.44 L248.49,31.46 L249.31,31.52 L250.13,31.62 L250.92,31.75 L251.69,31.93 L252.44,32.14 L253.16,32.40 L253.86,32.71 L254.52,33.07 L255.16,33.47 L255.78,33.92 L256.36,34.40 L256.92,34.93 L257.46,35.48 L257.97,36.08 L258.46,36.70 L258.93,37.35 L259.37,38.02 L259.80,38.72 L260.21,39.44 L260.60,40.18 L260.97,40.93 L261.32,41.70 L261.66,42.47 L261.99,43.26 L262.30,44.05 L262.60,44.84 L262.88,45.64 L263.15,46.44 L263.41,47.24 L263.66,48.05 L263.90,48.87 L264.12,49.68 L264.33,50.50 L264.54,51.32 L264.73,52.15 L264.91,52.98 L265.09,53.81 L265.25,54.64 L265.41,55.48 L265.55,56.32 L265.69,57.16 L265.82,58.01 L265.94,58.85 L266.06,59.70 L266.17,60.55 L266.27,61.41 L266.37,62.26 L266.46,63.12 L266.54,63.97 L266.63,64.83 L266.70,65.69 L266.77,66.55 L266.84,67.42 L266.90,68.28 L266.96,69.15 L267.02,70.01 L267.07,70.88 L267.13,71.74 L267.18,72.61 L267.22,73.48 L267.27,74.35 L267.32,75.21 L267.36,76.08 L267.41,76.95 L267.45,77.82 L267.50,78.69 L267.54,79.55 L267.59,80.42 L267.64,81.29 L267.68,82.15 L267.73,83.02 L267.78,83.88 L267.83,84.75 L267.88,85.61 L267.93,86.48 L267.97,87.34 L268.02,88.21 L268.07,89.07 L268.12,89.94 L268.18,90.80 L268.23,91.66 L268.28,92.53 L268.33,93.39 L268.38,94.25 L268.43,95.11 L268.49,95.97 L268.54,96.84 L268.59,97.70 L268.65,98.56 L268.70,99.42 L268.76,100.28 L268.81,101.14 L268.87,102.00 L268.92,102.86 L268.98,103.72 L269.03,104.58 L269.09,105.44 L269.15,106.30 L269.20,107.16 L269.26,108.02 L269.32,108.87 L269.37,109.73 L269.43,110.59 L269.49,111.45 L269.55,112.31 L269.61,113.16 L269.66,114.02 L269.72,114.88 L269.78,115.73 L269.84,116.59 L269.90,117.45 L269.96,118.30 L270.02,119.16 L270.08,120.02 L270.14,120.87 L270.20,121.73 L270.26,122.58 L270.32,123.44 L270.38,124.29 L270.44,125.15 L270.51,126.00 L270.57,126.86 L270.63,127.71 L270.69,128.56 L270.75,129.42 L270.82,130.27 L270.88,131.13 L270.94,131.98 L271.00,132.83 L271.07,133.69 L271.13,134.54 L271.19,135.39 L271.25,136.25 L271.32,137.10 L271.38,137.95 L271.44,138.80 L271.51,139.66 L271.57,140.51 L271.63,141.36 L271.70,142.21 L271.76,143.06 L271.83,143.92 L271.89,144.77 L271.95,145.62 L272.02,146.47 L272.08,147.32 L272.15,148.17 L272.21,149.02 L272.28,149.88 L272.34,150.73 L272.40,151.58 L272.47,152.43 L272.53,153.28 L272.60,154.13 L272.66,154.98 L272.73,155.83 L272.79,156.68 L272.86,157.53 L272.92,158.38 L272.98,159.23 L273.05,160.08 L273.11,160.93 L273.18,161.78 L273.24,162.63 L273.31,163.48 L273.37,164.33 L273.44,165.18 L273.50,166.03 L273.56,166.88 L273.63,167.73 L273.69,168.58 L273.76,169.43 L273.82,170.28 L273.88,171.13 L273.95,171.98 L274.01,172.83 L274.08,173.68 L274.14,174.53 L274.20,175.38 L274.27,176.23 L274.33,177.08 L274.39,177.93 L274.46,178.78 L274.52,179.63 L274.58,180.48 L274.64,181.32 L274.71,182.17 L274.77,183.02 L274.83,183.87 L274.89,184.72 L274.96,185.57 L275.02,186.42 L275.08,187.27 L275.14,188.12 L275.20,188.97 L275.27,189.82 L275.33,190.67 L275.39,191.52 L275.45,192.37 L275.51,193.22 L275.57,194.07 L275.63,194.92 L275.69,195.77 L275.75,196.62 L275.81,197.47 L275.87,198.32 L275.93,199.17 L275.99,200.02 L276.05,200.87 L276.11,201.72 L276.16,202.57 L276.22,203.42 L276.28,204.27 L276.34,205.12 L276.39,205.97 L276.45,206.82 L276.51,207.67 L276.57,208.52 L276.62,209.38 L276.68,210.23 L276.73,211.08 L276.79,211.93 L276.84,212.78 L276.90,213.63 L276.95,214.48 L277.01,215.34 L277.06,216.19 L277.12,217.04 L277.17,217.89 L277.22,218.74 L277.28,219.60 L277.33,220.45 L277.38,221.30 L277.43,222.15 L277.48,223.01 L277.54,223.86 L277.59,224.71 L277.64,225.56 L277.69,226.42 L277.74,227.27 L277.79,228.12 L277.84,228.98 L277.89,229.83 L277.94,230.68 L277.99,231.54 L278.04,232.39 L278.08,233.25 L278.13,234.10 L278.18,234.95 L278.23,235.81 L278.28,236.66 L278.33,237.52 L278.37,238.37 L278.42,239.23 L278.47,240.08 L278.52,240.94 L278.57,241.79 L278.61,242.64 L278.66,243.50 L278.71,244.35 L278.76,245.21 L278.80,246.06 L278.85,246.92 L278.90,247.78 L278.95,248.63 L278.99,249.49 L279.04,250.34 L279.09,251.20 L279.14,252.05 L279.18,252.91 L279.23,253.76 L279.28,254.62 L279.33,255.47 L279.38,256.33 L279.43,257.19 L279.47,258.04 L279.52,258.90 L279.57,259.75 L279.62,260.61 L279.67,261.46 L279.72,262.32 L279.77,263.18 L279.82,264.03 L279.87,264.89 L279.92,265.74 L279.97,266.60 L280.02,267.46 L280.07,268.31 L280.12,269.17 L280.17,270.02 L280.22,270.88 L280.28,271.74 L280.33,272.59 L280.38,273.45 L280.44,274.30 L280.49,275.16 L280.54,276.02 L280.60,276.87 L280.65,277.73 L280.71,278.58 L280.76,279.44 L280.82,280.30 L280.87,281.15 L280.93,282.01 L280.99,282.86 L281.04,283.72 L281.10,284.58 L281.16,285.43 L281.22,286.29 L281.28,287.14 L281.34,288.00 L281.40,288.86 L281.46,289.71 L281.52,290.57 L281.58,291.42 L281.65,292.28 L281.71,293.13 L281.77,293.99 L281.84,294.84 L281.90,295.70 L281.97,296.56 L282.04,297.41 L282.10,298.27 L282.17,299.12 L282.24,299.98 L282.31,300.83 L282.38,301.69 L282.45,302.54 L282.52,303.40 L282.59,304.25 L282.66,305.11 L282.73,305.96 L282.81,306.81 L282.88,307.67 L282.96,308.52 L283.03,309.38 L283.11,310.23 L283.19,311.09 L283.27,311.94 L283.35,312.79 L283.43,313.65 L283.51,314.50 L283.59,315.36 L283.67,316.21 L283.76,317.06 L283.84,317.92 L283.93,318.77 L284.01,319.62 L284.10,320.48 L284.19,321.33 L284.28,322.18 L284.37,323.03 L284.46,323.89 L284.55,324.74 L284.64,325.59 L284.73,326.44 L284.83,327.30 L284.93,328.15 L285.02,329.00 L285.12,329.85 L285.22,330.70 L285.32,331.55 L285.42,332.41 L285.52,333.26 L285.62,334.11 L285.73,334.96 L285.83,335.81 L285.94,336.66 L286.05,337.51 L286.16,338.36 L286.27,339.21 L286.38,340.06 L286.49,340.91 L286.60,341.76 L286.72,342.61 L286.83,343.46 L286.95,344.31 L287.07,345.16 L287.19,346.01 L287.31,346.86 L287.43,347.70 L287.55,348.55 L287.67,349.40 L287.80,350.25 L287.92,351.10 L288.05,351.94 L288.18,352.79 L288.31,353.64 L288.44,354.48 L288.57,355.33 L288.70,356.17 L288.83,357.02 L288.97,357.86 L289.10,358.71 L289.24,359.55 L289.38,360.39 L289.52,361.24 L289.65,362.08 L289.79,362.92 L289.94,363.76 L290.08,364.60 L290.22,365.44 L290.37,366.29 L290.51,367.13 L290.66,367.96 L290.81,368.80 L290.95,369.64 L291.10,370.48 L291.25,371.32 L291.40,372.15 L291.56,372.99 L291.71,373.82 L291.86,374.66 L292.02,375.49 L292.17,376.33 L292.33,377.16 L292.49,377.99 L292.65,378.83 L292.81,379.66 L292.97,380.49 L293.13,381.32 L293.29,382.15 L293.45,382.97 L293.62,383.80 L293.78,384.63 L293.95,385.46 L294.12,386.28 L294.28,387.11 L294.46,387.93 L294.63,388.75 L294.81,389.57 L294.99,390.39 L295.18,391.21 L295.37,392.03 L295.57,392.85 L295.78,393.66 L296.00,394.47 L296.22,395.28 L296.46,396.09 L296.70,396.90 L296.95,397.70 L297.22,398.51 L297.49,399.31 L297.78,400.10 L298.08,400.90 L298.40,401.69 L298.73,402.48 L299.07,403.27 L299.43,404.05 L299.81,404.83 L300.20,405.61 L300.61,406.39 L301.04,407.16 L301.49,407.92 L301.95,408.68 L302.43,409.43 L302.92,410.18 L303.43,410.91 L303.95,411.64 L304.49,412.36 L305.04,413.06 L305.61,413.75 L306.19,414.43 L306.78,415.09 L307.38,415.74 L308.00,416.38 L308.63,416.99 L309.27,417.59 L309.92,418.17 L310.59,418.73 L311.26,419.27 L311.94,419.79 L312.64,420.28 L313.34,420.76 L314.05,421.20 L314.78,421.63 L315.51,422.02 L316.24,422.39 L316.99,422.73 L317.74,423.05 L318.50,423.33 L319.27,423.59 L320.04,423.81 L320.82,424.02 L321.60,424.19 L322.39,424.34 L323.19,424.47 L323.99,424.58 L324.80,424.66 L325.61,424.72 L326.43,424.77 L327.25,424.79 L328.08,424.80 L328.91,424.79 L329.75,424.77 L330.59,424.73 L331.43,424.68 L332.27,424.62 L333.12,424.55 L333.98,424.46 L334.83,424.37 L335.69,424.27 L336.55,424.16 L337.41,424.05 L338.28,423.93 L339.14,423.81 L340.01,423.68 L340.88,423.56 L341.75,423.43 L342.62,423.30 L343.50,423.17 L344.37,423.05 L345.24,422.93 L346.12,422.81 L346.99,422.70 L347.86,422.59 L348.74,422.48 L349.61,422.38 L350.49,422.28 L351.36,422.17 L352.23,422.08 L353.11,421.98 L353.98,421.88 L354.85,421.79 L355.72,421.69 L356.59,421.60 L357.46,421.51 L358.33,421.41 L359.20,421.32 L360.07,421.23 L360.93,421.13 L361.80,421.03 L362.66,420.94 L363.52,420.84 L364.38,420.73 L365.24,420.63 L366.10,420.52 L366.96,420.41 L367.81,420.30 L368.66,420.19 L369.51,420.07 L370.36,419.94 L371.21,419.82 L372.05,419.68 L372.89,419.55 L373.73,419.41 L374.57,419.26 L375.40,419.11 L376.23,418.95 L377.06,418.78 L377.89,418.61 L378.71,418.44 L379.53,418.25 L380.35,418.06 L381.17,417.86 L381.98,417.66 L382.79,417.44 L383.59,417.22 L384.39,416.99 L385.19,416.75 L385.99,416.50 L386.78,416.25 L387.56,415.98 L388.35,415.70 L389.13,415.41 L389.90,415.12 L390.67,414.81 L391.44,414.49 L392.20,414.16 L392.96,413.82 L393.72,413.46 L394.47,413.10 L395.22,412.73 L395.96,412.34 L396.71,411.95 L397.45,411.55 L398.19,411.13 L398.93,410.71 L399.66,410.28 L400.40,409.84 L401.14,409.40 L401.87,408.94 L402.61,408.48 L403.35,408.01 L404.09,407.54 L404.83,407.06 L405.58,406.57 L406.32,406.08 L407.07,405.58 L407.83,405.08 L408.58,404.57 L409.34,404.06 L410.10,403.56 L410.87,403.05 L411.64,402.55 L412.41,402.06 L413.18,401.59 L413.95,401.12 L414.73,400.67 L415.51,400.24 L416.29,399.83 L417.07,399.45 L417.85,399.09 L418.63,398.75 L419.41,398.45 L420.19,398.19 L420.97,397.96 L421.75,397.77 L422.53,397.62 L423.31,397.51 L424.09,397.45 L424.87,397.43 L425.64,397.45 L426.42,397.51 L427.19,397.61 L427.96,397.75 L428.73,397.92 L429.49,398.12 L430.25,398.36 L431.01,398.63 L431.76,398.93 L432.51,399.26 L433.25,399.62 L433.99,400.00 L434.73,400.40 L435.46,400.83 L436.18,401.28 L436.90,401.75 L437.61,402.24 L438.32,402.74 L439.02,403.26 L439.71,403.79 L440.39,404.34 L441.07,404.90 L441.74,405.46 L442.40,406.04 L443.06,406.62 L443.71,407.21 L444.35,407.81 L444.99,408.41 L445.63,409.01 L446.26,409.62 L446.88,410.23 L447.51,410.84 L448.13,411.45 L448.75,412.06 L449.37,412.67 L449.99,413.27 L450.61,413.88 L451.23,414.48 L451.86,415.07 L452.48,415.65 L453.11,416.23 L453.74,416.81 L454.38,417.37 L455.02,417.92 L455.66,418.46 L456.31,418.99 L456.97,419.51 L457.63,420.01 L458.30,420.50 L458.98,420.97 L459.67,421.43 L460.37,421.87 L461.08,422.29 L461.80,422.69 L462.53,423.07 L463.27,423.43 L464.02,423.77 L464.79,424.09 L465.57,424.39 L466.35,424.67 L467.15,424.93 L467.96,425.17 L468.78,425.39 L469.60,425.60 L470.43,425.80 L471.27,425.97 L472.12,426.13 L472.98,426.28 L473.84,426.42 L474.70,426.54 L475.58,426.65 L476.45,426.75 L477.33,426.84 L478.22,426.93 L479.11,427.00 L480.00,427.06 L480.89,427.12 L481.78,427.17 L482.68,427.21 L483.58,427.25 L484.48,427.28 L485.37,427.31 L486.27,427.33 L487.16,427.36 L488.06,427.38 L488.95,427.40 L489.84,427.42 L490.73,427.44 L491.61,427.46 L492.49,427.48 L493.36,427.50 L494.23,427.53 L495.10,427.56 L495.95,427.60 L496.80,427.64 L497.65,427.69 L498.49,427.74 L499.31,427.80 L500.13,427.87 L500.95,427.94 L501.75,428.03 L502.54,428.13 L503.32,428.23 L504.09,428.35" fill="none" stroke="#063d12" stroke-width="3.6" stroke-linejoin="round" stroke-linecap="butt"/>
</g>
<text x="87.8" y="439.60" font-size="26.8" text-anchor="end">0.0</text>
<text x="87.8" y="381.70" font-size="26.8" text-anchor="end">0.2</text>
<text x="87.8" y="323.80" font-size="26.8" text-anchor="end">0.4</text>
<text x="87.8" y="265.90" font-size="26.8" text-anchor="end">0.6</text>
<text x="87.8" y="208.00" font-size="26.8" text-anchor="end">0.8</text>
<text x="87.8" y="150.10" font-size="26.8" text-anchor="end">1.0</text>
<text x="87.8" y="92.20" font-size="26.8" text-anchor="end">1.2</text>
<text x="87.8" y="34.30" font-size="26.8" text-anchor="end">1.4</text>
<text x="113.60" y="477.4" font-size="26" text-anchor="middle" textLength="38.6" lengthAdjust="spacingAndGlyphs">350</text>
<text x="169.43" y="477.4" font-size="26" text-anchor="middle" textLength="38.6" lengthAdjust="spacingAndGlyphs">400</text>
<text x="225.26" y="477.4" font-size="26" text-anchor="middle" textLength="38.6" lengthAdjust="spacingAndGlyphs">450</text>
<text x="281.09" y="477.4" font-size="26" text-anchor="middle" textLength="38.6" lengthAdjust="spacingAndGlyphs">500</text>
<text x="336.91" y="477.4" font-size="26" text-anchor="middle" textLength="38.6" lengthAdjust="spacingAndGlyphs">550</text>
<text x="392.74" y="477.4" font-size="26" text-anchor="middle" textLength="38.6" lengthAdjust="spacingAndGlyphs">600</text>
<text x="448.57" y="477.4" font-size="26" text-anchor="middle" textLength="38.6" lengthAdjust="spacingAndGlyphs">650</text>
<text x="504.40" y="477.4" font-size="26" text-anchor="middle" textLength="38.6" lengthAdjust="spacingAndGlyphs">700</text>
<text x="174.4" y="512.7" font-size="34" textLength="243" lengthAdjust="spacingAndGlyphs">wavelength [nm]</text>
<text transform="translate(47.8,268.5) rotate(-90)" x="0" y="0" font-size="34" textLength="63.5" lengthAdjust="spacingAndGlyphs">Abs.</text>
<line x1="300.3" y1="47.60" x2="361.3" y2="47.60" stroke="#11557f" stroke-width="3.6" stroke-linecap="round"/>
<text x="375.2" y="55.90" font-size="31">C</text>
<text x="394.8" y="59.90" font-size="20" font-style="italic" textLength="25" lengthAdjust="spacingAndGlyphs">dye</text>
<text x="419.6" y="55.90" font-size="28">=</text>
<text x="435" y="55.90" font-size="30" textLength="14.2" lengthAdjust="spacingAndGlyphs">2</text>
<line x1="300.3" y1="85.90" x2="361.3" y2="85.90" stroke="#e66525" stroke-width="3.6" stroke-linecap="round"/>
<text x="375.2" y="94.00" font-size="31">C</text>
<text x="394.8" y="98.00" font-size="20" font-style="italic" textLength="25" lengthAdjust="spacingAndGlyphs">dye</text>
<text x="419.6" y="94.00" font-size="28">=</text>
<text x="435" y="94.00" font-size="30" textLength="14.2" lengthAdjust="spacingAndGlyphs">5</text>
<line x1="300.3" y1="122.90" x2="361.3" y2="122.90" stroke="#15651f" stroke-width="3.6" stroke-linecap="round"/>
<text x="375.2" y="132.10" font-size="31">C</text>
<text x="394.8" y="136.10" font-size="20" font-style="italic" textLength="25" lengthAdjust="spacingAndGlyphs">dye</text>
<text x="419.6" y="132.10" font-size="28">=</text>
<text x="435" y="132.10" font-size="30" textLength="28.4" lengthAdjust="spacingAndGlyphs">10</text>
<line x1="300.3" y1="161.30" x2="361.3" y2="161.30" stroke="#0c96d3" stroke-width="3.6" stroke-linecap="round"/>
<text x="375.2" y="169.20" font-size="31">C</text>
<text x="394.8" y="173.20" font-size="20" font-style="italic" textLength="25" lengthAdjust="spacingAndGlyphs">dye</text>
<text x="419.6" y="169.20" font-size="28">=</text>
<text x="435" y="169.20" font-size="30" textLength="28.4" lengthAdjust="spacingAndGlyphs">20</text>
<line x1="300.3" y1="200.00" x2="361.3" y2="200.00" stroke="#9e1d8f" stroke-width="3.6" stroke-linecap="round"/>
<text x="375.2" y="208.10" font-size="31">C</text>
<text x="394.8" y="212.10" font-size="20" font-style="italic" textLength="25" lengthAdjust="spacingAndGlyphs">dye</text>
<text x="419.6" y="208.10" font-size="28">=</text>
<text x="435" y="208.10" font-size="30" textLength="28.4" lengthAdjust="spacingAndGlyphs">30</text>
<line x1="300.3" y1="236.70" x2="361.3" y2="236.70" stroke="#42a22b" stroke-width="3.6" stroke-linecap="round"/>
<text x="375.2" y="244.60" font-size="31">C</text>
<text x="394.8" y="248.60" font-size="20" font-style="italic" textLength="25" lengthAdjust="spacingAndGlyphs">dye</text>
<text x="419.6" y="244.60" font-size="28">=</text>
<text x="435" y="244.60" font-size="30" textLength="28.4" lengthAdjust="spacingAndGlyphs">40</text>
<line x1="300.3" y1="274.90" x2="361.3" y2="274.90" stroke="#0c3651" stroke-width="3.6" stroke-linecap="round"/>
<text x="375.2" y="283.00" font-size="31">C</text>
<text x="394.8" y="287.00" font-size="20" font-style="italic" textLength="25" lengthAdjust="spacingAndGlyphs">dye</text>
<text x="419.6" y="283.00" font-size="28">=</text>
<text x="435" y="283.00" font-size="30" textLength="28.4" lengthAdjust="spacingAndGlyphs">60</text>
<line x1="300.3" y1="312.00" x2="361.3" y2="312.00" stroke="#9e3b0b" stroke-width="3.6" stroke-linecap="round"/>
<text x="375.2" y="320.10" font-size="31">C</text>
<text x="394.8" y="324.10" font-size="20" font-style="italic" textLength="25" lengthAdjust="spacingAndGlyphs">dye</text>
<text x="419.6" y="320.10" font-size="28">=</text>
<text x="435" y="320.10" font-size="30" textLength="28.4" lengthAdjust="spacingAndGlyphs">80</text>
<line x1="300.3" y1="350.10" x2="361.3" y2="350.10" stroke="#063d12" stroke-width="3.6" stroke-linecap="round"/>
<text x="375.2" y="358.50" font-size="31">C</text>
<text x="394.8" y="362.50" font-size="20" font-style="italic" textLength="25" lengthAdjust="spacingAndGlyphs">dye</text>
<text x="419.6" y="358.50" font-size="28">=</text>
<text x="435" y="358.50" font-size="30" textLength="42.599999999999994" lengthAdjust="spacingAndGlyphs">100</text>
</svg></body></html>
